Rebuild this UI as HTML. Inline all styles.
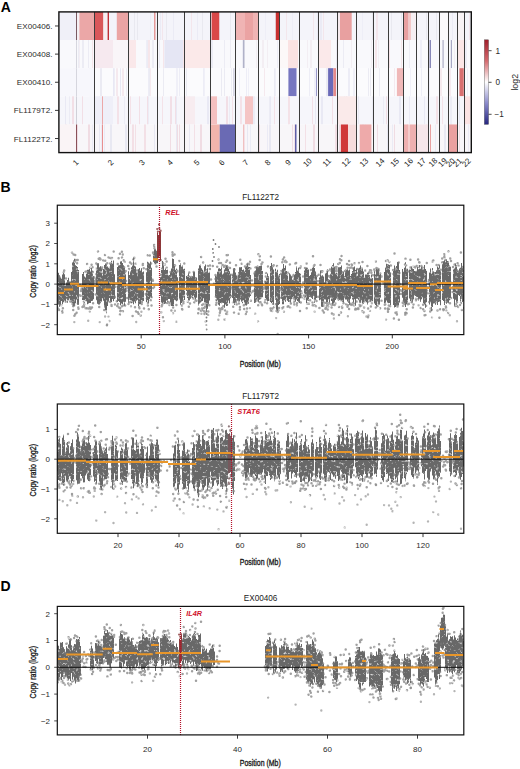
<!DOCTYPE html>
<html><head><meta charset="utf-8"><style>
html,body{margin:0;padding:0;background:#fff;}
svg{display:block;}
text{font-family:"Liberation Sans", sans-serif;}
</style></head><body>
<svg width="520" height="769" viewBox="0 0 520 769">
<rect width="520" height="769" fill="#fff"/>
<rect x="58.90" y="11.90" width="412.40" height="28.14" fill="#f4f4fa"/>
<rect x="81" y="11.90" width="1" height="28.14" fill="#ebebf5"/>
<rect x="88" y="11.90" width="1" height="28.14" fill="#ebebf5"/>
<rect x="90" y="11.90" width="1" height="28.14" fill="#f3e6ec"/>
<rect x="75" y="11.90" width="1" height="28.14" fill="#e9e9f0"/>
<rect x="78" y="11.90" width="1" height="28.14" fill="#ebebf5"/>
<rect x="119" y="11.90" width="2" height="28.14" fill="#f3e6ec"/>
<rect x="101" y="11.90" width="2" height="28.14" fill="#eeeef7"/>
<rect x="120" y="11.90" width="1" height="28.14" fill="#eeeef7"/>
<rect x="115" y="11.90" width="2" height="28.14" fill="#eeeef7"/>
<rect x="100" y="11.90" width="1" height="28.14" fill="#eeeef7"/>
<rect x="150" y="11.90" width="1" height="28.14" fill="#eeeef7"/>
<rect x="137" y="11.90" width="1" height="28.14" fill="#eeeef7"/>
<rect x="134" y="11.90" width="1" height="28.14" fill="#e9e9f0"/>
<rect x="137" y="11.90" width="1" height="28.14" fill="#e9e9f0"/>
<rect x="162" y="11.90" width="1" height="28.14" fill="#f3e6ec"/>
<rect x="160" y="11.90" width="1" height="28.14" fill="#ebebf5"/>
<rect x="173" y="11.90" width="1" height="28.14" fill="#ebebf5"/>
<rect x="166" y="11.90" width="1" height="28.14" fill="#e9e9f0"/>
<rect x="202" y="11.90" width="1" height="28.14" fill="#e9e9f0"/>
<rect x="197" y="11.90" width="1" height="28.14" fill="#ebebf5"/>
<rect x="191" y="11.90" width="1" height="28.14" fill="#f3e6ec"/>
<rect x="230" y="11.90" width="1" height="28.14" fill="#e9e9f0"/>
<rect x="219" y="11.90" width="1" height="28.14" fill="#e9e9f0"/>
<rect x="212" y="11.90" width="1" height="28.14" fill="#eeeef7"/>
<rect x="238" y="11.90" width="1" height="28.14" fill="#e9e9f0"/>
<rect x="243" y="11.90" width="1" height="28.14" fill="#f3e6ec"/>
<rect x="252" y="11.90" width="1" height="28.14" fill="#f3e6ec"/>
<rect x="275" y="11.90" width="1" height="28.14" fill="#e9e9f0"/>
<rect x="277" y="11.90" width="1" height="28.14" fill="#eeeef7"/>
<rect x="265" y="11.90" width="1" height="28.14" fill="#eeeef7"/>
<rect x="286" y="11.90" width="1" height="28.14" fill="#f3e6ec"/>
<rect x="292" y="11.90" width="1" height="28.14" fill="#eeeef7"/>
<rect x="313" y="11.90" width="1" height="28.14" fill="#f3e6ec"/>
<rect x="317" y="11.90" width="1" height="28.14" fill="#ebebf5"/>
<rect x="320" y="11.90" width="2" height="28.14" fill="#ebebf5"/>
<rect x="323" y="11.90" width="1" height="28.14" fill="#f3e6ec"/>
<rect x="346" y="11.90" width="2" height="28.14" fill="#eeeef7"/>
<rect x="339" y="11.90" width="1" height="28.14" fill="#e9e9f0"/>
<rect x="362" y="11.90" width="1" height="28.14" fill="#eeeef7"/>
<rect x="372" y="11.90" width="1" height="28.14" fill="#e9e9f0"/>
<rect x="376" y="11.90" width="2" height="28.14" fill="#f3e6ec"/>
<rect x="376" y="11.90" width="2" height="28.14" fill="#f3e6ec"/>
<rect x="391" y="11.90" width="1" height="28.14" fill="#e9e9f0"/>
<rect x="401" y="11.90" width="1" height="28.14" fill="#e9e9f0"/>
<rect x="407" y="11.90" width="2" height="28.14" fill="#e9e9f0"/>
<rect x="426" y="11.90" width="1" height="28.14" fill="#e9e9f0"/>
<rect x="436" y="11.90" width="1" height="28.14" fill="#e9e9f0"/>
<rect x="446" y="11.90" width="1" height="28.14" fill="#ebebf5"/>
<rect x="452" y="11.90" width="1" height="28.14" fill="#ebebf5"/>
<rect x="462" y="11.90" width="1" height="28.14" fill="#ebebf5"/>
<rect x="469" y="11.90" width="1" height="28.14" fill="#f3e6ec"/>
<rect x="59.00" y="11.90" width="17.00" height="28.14" fill="#f0f0f8"/>
<rect x="76.00" y="11.90" width="1.00" height="28.14" fill="#7a5a62"/>
<rect x="77.00" y="11.90" width="2.40" height="28.14" fill="#f4f0f4"/>
<rect x="79.40" y="11.90" width="15.50" height="28.14" fill="#eba7a7"/>
<rect x="94.90" y="11.90" width="8.50" height="28.14" fill="#d9575a"/>
<rect x="103.40" y="11.90" width="4.20" height="28.14" fill="#f7eef2"/>
<rect x="107.60" y="11.90" width="1.40" height="28.14" fill="#c03038"/>
<rect x="109.00" y="11.90" width="7.80" height="28.14" fill="#f3f3fa"/>
<rect x="116.80" y="11.90" width="12.00" height="28.14" fill="#eba4a4"/>
<rect x="154.00" y="11.90" width="1.50" height="28.14" fill="#e59a9a"/>
<rect x="211.60" y="11.90" width="7.60" height="28.14" fill="#d94848"/>
<rect x="235.20" y="11.90" width="9.80" height="28.14" fill="#f0b4b4"/>
<rect x="245.00" y="11.90" width="8.00" height="28.14" fill="#eba3a3"/>
<rect x="253.00" y="11.90" width="5.40" height="28.14" fill="#f0b4b4"/>
<rect x="275.80" y="11.90" width="3.20" height="28.14" fill="#c83030"/>
<rect x="337.90" y="11.90" width="2.10" height="28.14" fill="#f6eaee"/>
<rect x="340.00" y="11.90" width="11.70" height="28.14" fill="#e8a0a0"/>
<rect x="403.00" y="11.90" width="5.50" height="28.14" fill="#e8a0a0"/>
<rect x="408.50" y="11.90" width="2.50" height="28.14" fill="#f2c8c8"/>
<rect x="411.00" y="11.90" width="5.60" height="28.14" fill="#f5eef2"/>
<rect x="439.60" y="11.90" width="8.40" height="28.14" fill="#fbfafc"/>
<rect x="457.50" y="11.90" width="6.50" height="28.14" fill="#f8f3f5"/>
<rect x="58.90" y="40.04" width="412.40" height="28.14" fill="#f9f9fc"/>
<rect x="88" y="40.04" width="1" height="28.14" fill="#ececf4"/>
<rect x="92" y="40.04" width="1" height="28.14" fill="#f6e6ea"/>
<rect x="79" y="40.04" width="1" height="28.14" fill="#f3eef3"/>
<rect x="78" y="40.04" width="1" height="28.14" fill="#ececf4"/>
<rect x="82" y="40.04" width="2" height="28.14" fill="#ececf4"/>
<rect x="121" y="40.04" width="1" height="28.14" fill="#ececf4"/>
<rect x="104" y="40.04" width="1" height="28.14" fill="#f3eef3"/>
<rect x="107" y="40.04" width="1" height="28.14" fill="#f3eef3"/>
<rect x="127" y="40.04" width="1" height="28.14" fill="#f6e6ea"/>
<rect x="112" y="40.04" width="1" height="28.14" fill="#f6e6ea"/>
<rect x="152" y="40.04" width="2" height="28.14" fill="#ececf4"/>
<rect x="148" y="40.04" width="2" height="28.14" fill="#f6e6ea"/>
<rect x="146" y="40.04" width="2" height="28.14" fill="#ececf4"/>
<rect x="146" y="40.04" width="1" height="28.14" fill="#eeeef7"/>
<rect x="163" y="40.04" width="2" height="28.14" fill="#f6e6ea"/>
<rect x="164" y="40.04" width="1" height="28.14" fill="#eeeef7"/>
<rect x="183" y="40.04" width="1" height="28.14" fill="#f6e6ea"/>
<rect x="159" y="40.04" width="1" height="28.14" fill="#eeeef7"/>
<rect x="193" y="40.04" width="1" height="28.14" fill="#f3eef3"/>
<rect x="190" y="40.04" width="1" height="28.14" fill="#f3eef3"/>
<rect x="196" y="40.04" width="2" height="28.14" fill="#eeeef7"/>
<rect x="224" y="40.04" width="1" height="28.14" fill="#ececf4"/>
<rect x="211" y="40.04" width="2" height="28.14" fill="#ececf4"/>
<rect x="230" y="40.04" width="1" height="28.14" fill="#ececf4"/>
<rect x="256" y="40.04" width="1" height="28.14" fill="#eeeef7"/>
<rect x="242" y="40.04" width="1" height="28.14" fill="#ececf4"/>
<rect x="256" y="40.04" width="1" height="28.14" fill="#f3eef3"/>
<rect x="267" y="40.04" width="1" height="28.14" fill="#f3eef3"/>
<rect x="262" y="40.04" width="2" height="28.14" fill="#f3eef3"/>
<rect x="277" y="40.04" width="1" height="28.14" fill="#eeeef7"/>
<rect x="286" y="40.04" width="1" height="28.14" fill="#f3eef3"/>
<rect x="282" y="40.04" width="1" height="28.14" fill="#ececf4"/>
<rect x="310" y="40.04" width="2" height="28.14" fill="#f3eef3"/>
<rect x="307" y="40.04" width="1" height="28.14" fill="#f3eef3"/>
<rect x="324" y="40.04" width="2" height="28.14" fill="#f3eef3"/>
<rect x="336" y="40.04" width="1" height="28.14" fill="#ececf4"/>
<rect x="351" y="40.04" width="1" height="28.14" fill="#f3eef3"/>
<rect x="343" y="40.04" width="1" height="28.14" fill="#ececf4"/>
<rect x="371" y="40.04" width="1" height="28.14" fill="#f3eef3"/>
<rect x="371" y="40.04" width="1" height="28.14" fill="#f3eef3"/>
<rect x="375" y="40.04" width="2" height="28.14" fill="#f6e6ea"/>
<rect x="378" y="40.04" width="1" height="28.14" fill="#f3eef3"/>
<rect x="389" y="40.04" width="1" height="28.14" fill="#f6e6ea"/>
<rect x="401" y="40.04" width="1" height="28.14" fill="#f6e6ea"/>
<rect x="409" y="40.04" width="1" height="28.14" fill="#ececf4"/>
<rect x="420" y="40.04" width="2" height="28.14" fill="#eeeef7"/>
<rect x="429" y="40.04" width="1" height="28.14" fill="#ececf4"/>
<rect x="442" y="40.04" width="1" height="28.14" fill="#ececf4"/>
<rect x="454" y="40.04" width="1" height="28.14" fill="#f3eef3"/>
<rect x="460" y="40.04" width="1" height="28.14" fill="#eeeef7"/>
<rect x="465" y="40.04" width="2" height="28.14" fill="#eeeef7"/>
<rect x="76.00" y="40.04" width="1.00" height="28.14" fill="#d6d6de"/>
<rect x="94.90" y="40.04" width="18.10" height="28.14" fill="#f6e9ef"/>
<rect x="113.00" y="40.04" width="15.80" height="28.14" fill="#f9f5f8"/>
<rect x="128.80" y="40.04" width="7.20" height="28.14" fill="#fae8ea"/>
<rect x="165.00" y="40.04" width="18.00" height="28.14" fill="#e5e6f4"/>
<rect x="184.90" y="40.04" width="25.80" height="28.14" fill="#fbe9e9"/>
<rect x="243.00" y="40.04" width="1.50" height="28.14" fill="#b0b2c8"/>
<rect x="279.50" y="40.04" width="8.50" height="28.14" fill="#fcf8f8"/>
<rect x="288.00" y="40.04" width="10.00" height="28.14" fill="#fae2e2"/>
<rect x="318.10" y="40.04" width="12.90" height="28.14" fill="#fbe9ea"/>
<rect x="429.60" y="40.04" width="1.40" height="28.14" fill="#8888b8"/>
<rect x="442.50" y="40.04" width="1.30" height="28.14" fill="#b8b8cc"/>
<rect x="450.80" y="40.04" width="1.20" height="28.14" fill="#a8a8c4"/>
<rect x="457.50" y="40.04" width="6.50" height="28.14" fill="#fbe6e6"/>
<rect x="58.90" y="68.18" width="412.40" height="28.14" fill="#fbfbfd"/>
<rect x="90" y="68.18" width="1" height="28.14" fill="#ededf6"/>
<rect x="74" y="68.18" width="2" height="28.14" fill="#ebebf3"/>
<rect x="89" y="68.18" width="2" height="28.14" fill="#ebebf3"/>
<rect x="73" y="68.18" width="1" height="28.14" fill="#f5e9ee"/>
<rect x="75" y="68.18" width="1" height="28.14" fill="#f5e9ee"/>
<rect x="122" y="68.18" width="2" height="28.14" fill="#f5e9ee"/>
<rect x="116" y="68.18" width="2" height="28.14" fill="#f5e9ee"/>
<rect x="100" y="68.18" width="2" height="28.14" fill="#ebebf3"/>
<rect x="126" y="68.18" width="1" height="28.14" fill="#ebebf3"/>
<rect x="114" y="68.18" width="1" height="28.14" fill="#ededf6"/>
<rect x="149" y="68.18" width="1" height="28.14" fill="#ededf6"/>
<rect x="150" y="68.18" width="1" height="28.14" fill="#f5e9ee"/>
<rect x="149" y="68.18" width="1" height="28.14" fill="#ebebf3"/>
<rect x="148" y="68.18" width="1" height="28.14" fill="#ededf6"/>
<rect x="179" y="68.18" width="1" height="28.14" fill="#ededf6"/>
<rect x="176" y="68.18" width="1" height="28.14" fill="#f5e9ee"/>
<rect x="176" y="68.18" width="2" height="28.14" fill="#f0f0f8"/>
<rect x="163" y="68.18" width="1" height="28.14" fill="#ebebf3"/>
<rect x="204" y="68.18" width="1" height="28.14" fill="#f0f0f8"/>
<rect x="186" y="68.18" width="1" height="28.14" fill="#ebebf3"/>
<rect x="203" y="68.18" width="1" height="28.14" fill="#ededf6"/>
<rect x="224" y="68.18" width="1" height="28.14" fill="#ebebf3"/>
<rect x="231" y="68.18" width="1" height="28.14" fill="#ededf6"/>
<rect x="221" y="68.18" width="1" height="28.14" fill="#ebebf3"/>
<rect x="246" y="68.18" width="1" height="28.14" fill="#ededf6"/>
<rect x="239" y="68.18" width="1" height="28.14" fill="#f0f0f8"/>
<rect x="248" y="68.18" width="1" height="28.14" fill="#f0f0f8"/>
<rect x="264" y="68.18" width="1" height="28.14" fill="#f5e9ee"/>
<rect x="275" y="68.18" width="1" height="28.14" fill="#f0f0f8"/>
<rect x="274" y="68.18" width="1" height="28.14" fill="#ebebf3"/>
<rect x="293" y="68.18" width="1" height="28.14" fill="#f0f0f8"/>
<rect x="293" y="68.18" width="1" height="28.14" fill="#ededf6"/>
<rect x="309" y="68.18" width="1" height="28.14" fill="#ededf6"/>
<rect x="314" y="68.18" width="2" height="28.14" fill="#f0f0f8"/>
<rect x="326" y="68.18" width="2" height="28.14" fill="#ebebf3"/>
<rect x="336" y="68.18" width="1" height="28.14" fill="#ededf6"/>
<rect x="348" y="68.18" width="2" height="28.14" fill="#ededf6"/>
<rect x="353" y="68.18" width="2" height="28.14" fill="#f0f0f8"/>
<rect x="368" y="68.18" width="1" height="28.14" fill="#ebebf3"/>
<rect x="370" y="68.18" width="1" height="28.14" fill="#ebebf3"/>
<rect x="379" y="68.18" width="1" height="28.14" fill="#f5e9ee"/>
<rect x="379" y="68.18" width="1" height="28.14" fill="#ebebf3"/>
<rect x="394" y="68.18" width="1" height="28.14" fill="#f5e9ee"/>
<rect x="399" y="68.18" width="2" height="28.14" fill="#f5e9ee"/>
<rect x="410" y="68.18" width="1" height="28.14" fill="#f0f0f8"/>
<rect x="421" y="68.18" width="1" height="28.14" fill="#ededf6"/>
<rect x="429" y="68.18" width="1" height="28.14" fill="#f0f0f8"/>
<rect x="440" y="68.18" width="2" height="28.14" fill="#f5e9ee"/>
<rect x="449" y="68.18" width="2" height="28.14" fill="#f5e9ee"/>
<rect x="462" y="68.18" width="2" height="28.14" fill="#f5e9ee"/>
<rect x="467" y="68.18" width="1" height="28.14" fill="#f0f0f8"/>
<rect x="59.00" y="68.18" width="35.90" height="28.14" fill="#f7f7fc"/>
<rect x="76.00" y="68.18" width="1.00" height="28.14" fill="#d6d6de"/>
<rect x="113.00" y="68.18" width="1.00" height="28.14" fill="#e8e8f4"/>
<rect x="120.00" y="68.18" width="1.00" height="28.14" fill="#e8e8f4"/>
<rect x="233.30" y="68.18" width="1.20" height="28.14" fill="#c8c8dc"/>
<rect x="288.40" y="68.18" width="8.10" height="28.14" fill="#7676c0"/>
<rect x="316.00" y="68.18" width="1.00" height="28.14" fill="#9a9acb"/>
<rect x="328.10" y="68.18" width="5.30" height="28.14" fill="#6a6ab8"/>
<rect x="333.40" y="68.18" width="2.60" height="28.14" fill="#e58a8a"/>
<rect x="396.90" y="68.18" width="6.10" height="28.14" fill="#f0b8b8"/>
<rect x="459.40" y="68.18" width="4.30" height="28.14" fill="#d87070"/>
<rect x="58.90" y="96.32" width="412.40" height="28.14" fill="#f6f6fb"/>
<rect x="65" y="96.32" width="1" height="28.14" fill="#e9e9f4"/>
<rect x="72" y="96.32" width="2" height="28.14" fill="#f2dfe6"/>
<rect x="65" y="96.32" width="1" height="28.14" fill="#e9e9f4"/>
<rect x="69" y="96.32" width="1" height="28.14" fill="#ececf5"/>
<rect x="82" y="96.32" width="1" height="28.14" fill="#f2dfe6"/>
<rect x="124" y="96.32" width="1" height="28.14" fill="#ececf5"/>
<rect x="105" y="96.32" width="1" height="28.14" fill="#e9e9f4"/>
<rect x="117" y="96.32" width="2" height="28.14" fill="#f4e2e8"/>
<rect x="99" y="96.32" width="1" height="28.14" fill="#ececf5"/>
<rect x="110" y="96.32" width="1" height="28.14" fill="#f4e2e8"/>
<rect x="130" y="96.32" width="1" height="28.14" fill="#f4e2e8"/>
<rect x="147" y="96.32" width="2" height="28.14" fill="#ececf5"/>
<rect x="147" y="96.32" width="1" height="28.14" fill="#f2dfe6"/>
<rect x="139" y="96.32" width="1" height="28.14" fill="#f2dfe6"/>
<rect x="162" y="96.32" width="1" height="28.14" fill="#f4e2e8"/>
<rect x="175" y="96.32" width="1" height="28.14" fill="#f2dfe6"/>
<rect x="176" y="96.32" width="1" height="28.14" fill="#e9e9f4"/>
<rect x="170" y="96.32" width="2" height="28.14" fill="#f2dfe6"/>
<rect x="189" y="96.32" width="1" height="28.14" fill="#ececf5"/>
<rect x="208" y="96.32" width="1" height="28.14" fill="#f4e2e8"/>
<rect x="207" y="96.32" width="2" height="28.14" fill="#e9e9f4"/>
<rect x="232" y="96.32" width="1" height="28.14" fill="#f4e2e8"/>
<rect x="226" y="96.32" width="2" height="28.14" fill="#f2dfe6"/>
<rect x="229" y="96.32" width="1" height="28.14" fill="#ececf5"/>
<rect x="253" y="96.32" width="2" height="28.14" fill="#ececf5"/>
<rect x="249" y="96.32" width="1" height="28.14" fill="#f4e2e8"/>
<rect x="240" y="96.32" width="2" height="28.14" fill="#f4e2e8"/>
<rect x="269" y="96.32" width="1" height="28.14" fill="#ececf5"/>
<rect x="274" y="96.32" width="1" height="28.14" fill="#f4e2e8"/>
<rect x="270" y="96.32" width="1" height="28.14" fill="#e9e9f4"/>
<rect x="288" y="96.32" width="1" height="28.14" fill="#f2dfe6"/>
<rect x="288" y="96.32" width="2" height="28.14" fill="#f4e2e8"/>
<rect x="312" y="96.32" width="1" height="28.14" fill="#f2dfe6"/>
<rect x="315" y="96.32" width="1" height="28.14" fill="#e9e9f4"/>
<rect x="321" y="96.32" width="2" height="28.14" fill="#e9e9f4"/>
<rect x="332" y="96.32" width="1" height="28.14" fill="#f2dfe6"/>
<rect x="344" y="96.32" width="1" height="28.14" fill="#e9e9f4"/>
<rect x="346" y="96.32" width="1" height="28.14" fill="#f2dfe6"/>
<rect x="372" y="96.32" width="1" height="28.14" fill="#ececf5"/>
<rect x="358" y="96.32" width="1" height="28.14" fill="#e9e9f4"/>
<rect x="383" y="96.32" width="1" height="28.14" fill="#ececf5"/>
<rect x="386" y="96.32" width="1" height="28.14" fill="#f2dfe6"/>
<rect x="399" y="96.32" width="2" height="28.14" fill="#e9e9f4"/>
<rect x="400" y="96.32" width="1" height="28.14" fill="#e9e9f4"/>
<rect x="409" y="96.32" width="1" height="28.14" fill="#e9e9f4"/>
<rect x="424" y="96.32" width="1" height="28.14" fill="#e9e9f4"/>
<rect x="436" y="96.32" width="2" height="28.14" fill="#f4e2e8"/>
<rect x="442" y="96.32" width="1" height="28.14" fill="#f4e2e8"/>
<rect x="450" y="96.32" width="2" height="28.14" fill="#ececf5"/>
<rect x="459" y="96.32" width="1" height="28.14" fill="#e9e9f4"/>
<rect x="465" y="96.32" width="1" height="28.14" fill="#f4e2e8"/>
<rect x="76.00" y="96.32" width="1.00" height="28.14" fill="#d0d0d8"/>
<rect x="95.00" y="96.32" width="18.00" height="28.14" fill="#efeff8"/>
<rect x="102.00" y="96.32" width="1.00" height="28.14" fill="#eca8a8"/>
<rect x="185.00" y="96.32" width="10.00" height="28.14" fill="#f7ecf0"/>
<rect x="211.00" y="96.32" width="6.00" height="28.14" fill="#f4c0c0"/>
<rect x="245.00" y="96.32" width="8.00" height="28.14" fill="#f5c5c5"/>
<rect x="337.90" y="96.32" width="18.80" height="28.14" fill="#faeaea"/>
<rect x="464.00" y="96.32" width="6.50" height="28.14" fill="#fbe3e3"/>
<rect x="58.90" y="124.46" width="412.40" height="28.14" fill="#f8f6f9"/>
<rect x="88" y="124.46" width="2" height="28.14" fill="#f0dce3"/>
<rect x="92" y="124.46" width="1" height="28.14" fill="#ebebf5"/>
<rect x="77" y="124.46" width="1" height="28.14" fill="#f0dce3"/>
<rect x="66" y="124.46" width="1" height="28.14" fill="#f3e0e6"/>
<rect x="65" y="124.46" width="1" height="28.14" fill="#f3e0e6"/>
<rect x="104" y="124.46" width="1" height="28.14" fill="#ebebf5"/>
<rect x="110" y="124.46" width="2" height="28.14" fill="#e8e8f2"/>
<rect x="99" y="124.46" width="1" height="28.14" fill="#e8e8f2"/>
<rect x="125" y="124.46" width="2" height="28.14" fill="#e8e8f2"/>
<rect x="101" y="124.46" width="1" height="28.14" fill="#ebebf5"/>
<rect x="144" y="124.46" width="2" height="28.14" fill="#f3e0e6"/>
<rect x="132" y="124.46" width="2" height="28.14" fill="#f3e0e6"/>
<rect x="135" y="124.46" width="1" height="28.14" fill="#f3e0e6"/>
<rect x="154" y="124.46" width="1" height="28.14" fill="#e8e8f2"/>
<rect x="176" y="124.46" width="1" height="28.14" fill="#e8e8f2"/>
<rect x="170" y="124.46" width="1" height="28.14" fill="#f0dce3"/>
<rect x="179" y="124.46" width="1" height="28.14" fill="#f0dce3"/>
<rect x="177" y="124.46" width="1" height="28.14" fill="#f0dce3"/>
<rect x="194" y="124.46" width="1" height="28.14" fill="#f3e0e6"/>
<rect x="200" y="124.46" width="2" height="28.14" fill="#f0dce3"/>
<rect x="189" y="124.46" width="1" height="28.14" fill="#e8e8f2"/>
<rect x="220" y="124.46" width="1" height="28.14" fill="#ebebf5"/>
<rect x="220" y="124.46" width="1" height="28.14" fill="#ebebf5"/>
<rect x="229" y="124.46" width="1" height="28.14" fill="#e8e8f2"/>
<rect x="250" y="124.46" width="1" height="28.14" fill="#ebebf5"/>
<rect x="244" y="124.46" width="1" height="28.14" fill="#f3e0e6"/>
<rect x="247" y="124.46" width="1" height="28.14" fill="#e8e8f2"/>
<rect x="259" y="124.46" width="1" height="28.14" fill="#f0dce3"/>
<rect x="269" y="124.46" width="2" height="28.14" fill="#e8e8f2"/>
<rect x="267" y="124.46" width="1" height="28.14" fill="#ebebf5"/>
<rect x="294" y="124.46" width="1" height="28.14" fill="#f3e0e6"/>
<rect x="292" y="124.46" width="1" height="28.14" fill="#f0dce3"/>
<rect x="305" y="124.46" width="1" height="28.14" fill="#f3e0e6"/>
<rect x="313" y="124.46" width="2" height="28.14" fill="#f0dce3"/>
<rect x="336" y="124.46" width="1" height="28.14" fill="#f0dce3"/>
<rect x="335" y="124.46" width="1" height="28.14" fill="#f3e0e6"/>
<rect x="339" y="124.46" width="1" height="28.14" fill="#f0dce3"/>
<rect x="353" y="124.46" width="1" height="28.14" fill="#e8e8f2"/>
<rect x="365" y="124.46" width="1" height="28.14" fill="#ebebf5"/>
<rect x="362" y="124.46" width="2" height="28.14" fill="#e8e8f2"/>
<rect x="387" y="124.46" width="2" height="28.14" fill="#e8e8f2"/>
<rect x="377" y="124.46" width="1" height="28.14" fill="#f0dce3"/>
<rect x="394" y="124.46" width="1" height="28.14" fill="#f0dce3"/>
<rect x="392" y="124.46" width="1" height="28.14" fill="#ebebf5"/>
<rect x="407" y="124.46" width="1" height="28.14" fill="#f3e0e6"/>
<rect x="426" y="124.46" width="1" height="28.14" fill="#f3e0e6"/>
<rect x="435" y="124.46" width="1" height="28.14" fill="#ebebf5"/>
<rect x="444" y="124.46" width="2" height="28.14" fill="#e8e8f2"/>
<rect x="450" y="124.46" width="2" height="28.14" fill="#ebebf5"/>
<rect x="459" y="124.46" width="1" height="28.14" fill="#f3e0e6"/>
<rect x="468" y="124.46" width="1" height="28.14" fill="#ebebf5"/>
<rect x="59.00" y="124.46" width="17.00" height="28.14" fill="#faf4f6"/>
<rect x="76.00" y="124.46" width="1.00" height="28.14" fill="#8a5058"/>
<rect x="102.00" y="124.46" width="1.00" height="28.14" fill="#e89090"/>
<rect x="211.00" y="124.46" width="8.70" height="28.14" fill="#f2b4ac"/>
<rect x="219.70" y="124.46" width="15.50" height="28.14" fill="#6a6ab4"/>
<rect x="243.00" y="124.46" width="1.00" height="28.14" fill="#f0c0c0"/>
<rect x="295.00" y="124.46" width="1.50" height="28.14" fill="#5f5fa8"/>
<rect x="340.80" y="124.46" width="7.20" height="28.14" fill="#d03838"/>
<rect x="348.00" y="124.46" width="8.70" height="28.14" fill="#f6dcdc"/>
<rect x="359.70" y="124.46" width="11.70" height="28.14" fill="#eeaaaa"/>
<rect x="403.00" y="124.46" width="5.00" height="28.14" fill="#eeb0b0"/>
<rect x="408.00" y="124.46" width="2.00" height="28.14" fill="#f4cccc"/>
<rect x="410.00" y="124.46" width="6.60" height="28.14" fill="#eeb0b0"/>
<rect x="416.60" y="124.46" width="12.00" height="28.14" fill="#f6e6ea"/>
<rect x="430.00" y="124.46" width="1.00" height="28.14" fill="#e8a0a0"/>
<rect x="448.50" y="124.46" width="9.00" height="28.14" fill="#eaa0a0"/>
<line x1="94.50" y1="11.9" x2="94.50" y2="152.6" stroke="#3c3c3c" stroke-width="1"/>
<line x1="128.50" y1="11.9" x2="128.50" y2="152.6" stroke="#3c3c3c" stroke-width="1"/>
<line x1="157.50" y1="11.9" x2="157.50" y2="152.6" stroke="#3c3c3c" stroke-width="1"/>
<line x1="184.50" y1="11.9" x2="184.50" y2="152.6" stroke="#3c3c3c" stroke-width="1"/>
<line x1="210.50" y1="11.9" x2="210.50" y2="152.6" stroke="#3c3c3c" stroke-width="1"/>
<line x1="235.50" y1="11.9" x2="235.50" y2="152.6" stroke="#3c3c3c" stroke-width="1"/>
<line x1="258.50" y1="11.9" x2="258.50" y2="152.6" stroke="#3c3c3c" stroke-width="1"/>
<line x1="279.50" y1="11.9" x2="279.50" y2="152.6" stroke="#3c3c3c" stroke-width="1"/>
<line x1="299.50" y1="11.9" x2="299.50" y2="152.6" stroke="#3c3c3c" stroke-width="1"/>
<line x1="318.50" y1="11.9" x2="318.50" y2="152.6" stroke="#3c3c3c" stroke-width="1"/>
<line x1="337.50" y1="11.9" x2="337.50" y2="152.6" stroke="#3c3c3c" stroke-width="1"/>
<line x1="356.50" y1="11.9" x2="356.50" y2="152.6" stroke="#3c3c3c" stroke-width="1"/>
<line x1="373.50" y1="11.9" x2="373.50" y2="152.6" stroke="#3c3c3c" stroke-width="1"/>
<line x1="388.50" y1="11.9" x2="388.50" y2="152.6" stroke="#3c3c3c" stroke-width="1"/>
<line x1="403.50" y1="11.9" x2="403.50" y2="152.6" stroke="#3c3c3c" stroke-width="1"/>
<line x1="416.50" y1="11.9" x2="416.50" y2="152.6" stroke="#3c3c3c" stroke-width="1"/>
<line x1="428.50" y1="11.9" x2="428.50" y2="152.6" stroke="#3c3c3c" stroke-width="1"/>
<line x1="439.50" y1="11.9" x2="439.50" y2="152.6" stroke="#3c3c3c" stroke-width="1"/>
<line x1="448.50" y1="11.9" x2="448.50" y2="152.6" stroke="#3c3c3c" stroke-width="1"/>
<line x1="457.50" y1="11.9" x2="457.50" y2="152.6" stroke="#3c3c3c" stroke-width="1"/>
<line x1="464.50" y1="11.9" x2="464.50" y2="152.6" stroke="#3c3c3c" stroke-width="1"/>
<rect x="58.9" y="11.9" width="412.40" height="140.70" fill="none" stroke="#111" stroke-width="1.4"/>
<line x1="55" y1="25.97" x2="58.9" y2="25.97" stroke="#222" stroke-width="0.9"/>
<text x="52.4" y="28.97" text-anchor="end" font-size="8.1" fill="#2a2a2a">EX00406.</text>
<line x1="55" y1="54.11" x2="58.9" y2="54.11" stroke="#222" stroke-width="0.9"/>
<text x="52.4" y="57.11" text-anchor="end" font-size="8.1" fill="#2a2a2a">EX00408.</text>
<line x1="55" y1="82.25" x2="58.9" y2="82.25" stroke="#222" stroke-width="0.9"/>
<text x="52.4" y="85.25" text-anchor="end" font-size="8.1" fill="#2a2a2a">EX00410.</text>
<line x1="55" y1="110.39" x2="58.9" y2="110.39" stroke="#222" stroke-width="0.9"/>
<text x="52.4" y="113.39" text-anchor="end" font-size="8.1" fill="#2a2a2a">FL1179T2.</text>
<line x1="55" y1="138.53" x2="58.9" y2="138.53" stroke="#222" stroke-width="0.9"/>
<text x="52.4" y="141.53" text-anchor="end" font-size="8.1" fill="#2a2a2a">FL1122T2.</text>
<text x="75.60" y="165.20" text-anchor="middle" font-size="7.9" fill="#1a1a1a" transform="rotate(-45 75.60 162.40)">1</text>
<text x="110.55" y="165.20" text-anchor="middle" font-size="7.9" fill="#1a1a1a" transform="rotate(-45 110.55 162.40)">2</text>
<text x="141.85" y="165.20" text-anchor="middle" font-size="7.9" fill="#1a1a1a" transform="rotate(-45 141.85 162.40)">3</text>
<text x="169.90" y="165.20" text-anchor="middle" font-size="7.9" fill="#1a1a1a" transform="rotate(-45 169.90 162.40)">4</text>
<text x="196.50" y="165.20" text-anchor="middle" font-size="7.9" fill="#1a1a1a" transform="rotate(-45 196.50 162.40)">5</text>
<text x="221.65" y="165.20" text-anchor="middle" font-size="7.9" fill="#1a1a1a" transform="rotate(-45 221.65 162.40)">6</text>
<text x="245.50" y="165.20" text-anchor="middle" font-size="7.9" fill="#1a1a1a" transform="rotate(-45 245.50 162.40)">7</text>
<text x="267.65" y="165.20" text-anchor="middle" font-size="7.9" fill="#1a1a1a" transform="rotate(-45 267.65 162.40)">8</text>
<text x="288.10" y="165.20" text-anchor="middle" font-size="7.9" fill="#1a1a1a" transform="rotate(-45 288.10 162.40)">9</text>
<text x="307.40" y="165.20" text-anchor="middle" font-size="7.9" fill="#1a1a1a" transform="rotate(-45 307.40 162.40)">10</text>
<text x="326.70" y="165.20" text-anchor="middle" font-size="7.9" fill="#1a1a1a" transform="rotate(-45 326.70 162.40)">11</text>
<text x="346.00" y="165.20" text-anchor="middle" font-size="7.9" fill="#1a1a1a" transform="rotate(-45 346.00 162.40)">12</text>
<text x="363.90" y="165.20" text-anchor="middle" font-size="7.9" fill="#1a1a1a" transform="rotate(-45 363.90 162.40)">13</text>
<text x="379.95" y="165.20" text-anchor="middle" font-size="7.9" fill="#1a1a1a" transform="rotate(-45 379.95 162.40)">14</text>
<text x="394.60" y="165.20" text-anchor="middle" font-size="7.9" fill="#1a1a1a" transform="rotate(-45 394.60 162.40)">15</text>
<text x="408.50" y="165.20" text-anchor="middle" font-size="7.9" fill="#1a1a1a" transform="rotate(-45 408.50 162.40)">16</text>
<text x="421.30" y="165.20" text-anchor="middle" font-size="7.9" fill="#1a1a1a" transform="rotate(-45 421.30 162.40)">17</text>
<text x="432.80" y="165.20" text-anchor="middle" font-size="7.9" fill="#1a1a1a" transform="rotate(-45 432.80 162.40)">18</text>
<text x="442.50" y="165.20" text-anchor="middle" font-size="7.9" fill="#1a1a1a" transform="rotate(-45 442.50 162.40)">19</text>
<text x="450.45" y="165.20" text-anchor="middle" font-size="7.9" fill="#1a1a1a" transform="rotate(-45 450.45 162.40)">20</text>
<text x="457.45" y="165.20" text-anchor="middle" font-size="7.9" fill="#1a1a1a" transform="rotate(-45 457.45 162.40)">21</text>
<text x="466.35" y="165.20" text-anchor="middle" font-size="7.9" fill="#1a1a1a" transform="rotate(-45 466.35 162.40)">22</text>
<defs><filter id="soft" x="-2%" y="-2%" width="104%" height="104%"><feTurbulence type="fractalNoise" baseFrequency="0.38" numOctaves="2" seed="7" result="n"/><feColorMatrix in="n" type="matrix" values="0 0 0 0 1  0 0 0 0 1  0 0 0 0 1  -2.6 0 0 0 1.05" result="holes"/><feComposite in="holes" in2="SourceGraphic" operator="atop"/><feGaussianBlur stdDeviation="0.45"/></filter><linearGradient id="cb" x1="0" y1="0" x2="0" y2="1"><stop offset="0" stop-color="#a11e2b"/><stop offset="0.25" stop-color="#d46a6e"/><stop offset="0.5" stop-color="#ffffff"/><stop offset="0.75" stop-color="#8a8acb"/><stop offset="1" stop-color="#252580"/></linearGradient></defs>
<rect x="484.3" y="39.8" width="4.3" height="84.6" fill="url(#cb)" stroke="#555" stroke-width="0.4"/>
<line x1="488.6" y1="50.7" x2="491.6" y2="50.7" stroke="#222" stroke-width="0.8"/>
<line x1="488.6" y1="82.3" x2="491.6" y2="82.3" stroke="#222" stroke-width="0.8"/>
<line x1="488.6" y1="114.3" x2="491.6" y2="114.3" stroke="#222" stroke-width="0.8"/>
<text x="497.9" y="53.6" text-anchor="middle" font-size="8.2" fill="#2a2a2a">1</text>
<text x="497.9" y="85.2" text-anchor="middle" font-size="8.2" fill="#2a2a2a">0</text>
<text x="503.9" y="117.2" text-anchor="end" font-size="8.2" fill="#2a2a2a">−1</text>
<text x="0" y="0" text-anchor="middle" font-size="8.8" fill="#2a2a2a" transform="translate(517.6 82.3) rotate(-90)">log2</text>
<text x="0.8" y="12.0" font-size="14" font-weight="bold" fill="#000">A</text>
<text x="0.6" y="192.0" font-size="14" font-weight="bold" fill="#000">B</text>
<text x="0.6" y="392.3" font-size="14" font-weight="bold" fill="#000">C</text>
<text x="0.6" y="591.0" font-size="14" font-weight="bold" fill="#000">D</text>
<clipPath id="cB"><rect x="57.3" y="205.2" width="406.50" height="129.40"/></clipPath>
<g clip-path="url(#cB)">
<g filter="url(#soft)">
<path d="M57.5 274.7V301.3M58.5 272.4V304.4M59.5 275.2V306.7M60.5 278.1V304.5M61.5 278.7V301.0M62.5 274.5V304.2M63.5 272.8V302.2M64.5 274.2V300.8M65.5 284.8V301.2M66.5 282.6V298.8M67.5 280.0V302.7M68.5 277.8V300.2M69.5 281.6V298.5M70.5 281.6V300.0M71.5 272.1V301.6M72.5 262.5V302.9M73.5 260.4V306.3M74.5 258.8V305.8M75.5 265.3V303.2M76.5 266.1V299.6M77.5 267.0V304.8M78.5 270.1V304.8M82.5 274.0V300.0M83.5 272.1V300.0M84.5 276.6V303.5M85.5 277.4V300.1M86.5 273.8V301.3M87.5 269.8V304.2M88.5 269.8V303.5M89.5 269.0V303.0M90.5 271.5V302.9M91.5 267.9V301.0M92.5 270.7V300.8M93.5 276.0V299.3M96.5 270.6V300.2M97.5 263.6V303.8M98.5 263.3V304.6M99.5 267.2V304.5M100.5 266.1V302.7M101.5 268.4V302.1M102.5 275.4V298.3M103.5 269.1V300.7M104.5 265.0V307.4M105.5 263.5V311.7M106.5 263.4V313.2M107.5 266.3V306.0M108.5 267.2V301.1M109.5 268.8V297.9M110.5 263.9V301.6M111.5 260.8V302.1M112.5 263.4V298.9M113.5 260.5V301.2M114.5 274.3V298.9M117.5 266.9V301.9M118.5 265.5V301.0M119.5 265.3V302.0M120.5 261.4V305.2M121.5 261.3V303.6M122.5 263.0V303.9M123.5 265.3V301.7M124.5 267.1V305.7M125.5 274.2V301.7M128.5 271.2V302.8M129.5 275.1V298.1M130.5 271.5V300.3M131.5 267.2V303.3M132.5 265.5V302.5M133.5 257.7V304.3M134.5 265.8V301.5M135.5 266.6V303.2M136.5 272.6V301.1M137.5 272.6V299.8M138.5 269.0V305.9M139.5 268.1V304.2M140.5 270.5V303.9M141.5 268.2V300.3M142.5 271.9V300.8M143.5 271.4V301.0M146.5 272.3V302.1M147.5 261.7V300.2M148.5 262.4V303.3M149.5 263.6V299.0M150.5 261.4V296.7M151.5 267.7V297.4M153.5 254.3V262.1M154.5 249.3V263.3M155.5 249.2V264.0M156.5 251.0V263.2M157.5 253.5V263.3M160.5 277.3V296.1M161.5 267.8V302.6M162.5 261.0V303.4M163.5 264.8V303.9M164.5 270.0V303.9M165.5 268.4V303.6M166.5 270.1V300.6M167.5 269.6V301.8M168.5 275.5V299.1M169.5 275.1V299.1M170.5 272.4V302.0M171.5 268.5V305.9M172.5 258.1V306.0M173.5 259.1V305.9M174.5 264.1V299.8M175.5 269.9V300.6M176.5 268.5V301.3M177.5 277.3V300.6M179.5 265.1V299.5M180.5 263.3V304.8M181.5 266.4V303.0M182.5 265.2V301.3M183.5 269.3V297.6M184.5 268.7V299.9M186.5 275.9V291.0M187.5 275.6V298.1M188.5 273.3V301.1M189.5 275.8V300.4M190.5 276.8V298.8M191.5 277.7V295.0M192.5 276.3V298.0M193.5 272.1V295.6M194.5 272.1V297.4M195.5 277.1V299.2M196.5 277.4V297.8M198.5 268.6V305.8M199.5 265.3V303.5M200.5 264.3V302.5M201.5 268.3V301.4M202.5 269.7V300.9M203.5 273.3V298.3M204.5 266.3V302.5M205.5 264.6V304.4M206.5 270.5V310.7M207.5 268.3V308.7M208.5 272.7V304.0M209.5 271.8V300.5M215.5 275.8V296.4M216.5 275.0V301.0M217.5 271.7V300.1M218.5 268.4V304.7M219.5 268.2V305.7M220.5 268.9V302.9M221.5 265.6V303.9M222.5 274.5V302.7M223.5 273.4V303.1M224.5 269.5V307.8M225.5 267.4V304.4M226.5 265.1V305.9M227.5 265.0V305.8M228.5 268.9V300.5M229.5 271.2V303.6M230.5 273.7V298.2M232.5 274.8V298.0M233.5 267.9V303.1M234.5 268.1V304.9M235.5 272.5V301.9M236.5 275.5V298.1M237.5 281.6V297.1M237.5 279.3V300.5M238.5 272.3V301.5M239.5 266.9V301.4M240.5 266.9V299.4M241.5 267.1V302.1M242.5 270.1V303.2M243.5 269.6V300.3M244.5 271.4V302.6M245.5 267.3V304.9M246.5 266.3V305.4M247.5 263.6V304.3M248.5 266.7V303.8M249.5 267.1V297.4M250.5 275.1V296.0M254.5 272.8V303.1M255.5 270.4V302.6M256.5 266.8V299.6M257.5 266.7V297.9M258.5 266.2V302.0M259.5 266.1V299.8M260.5 265.8V299.2M261.5 265.4V298.4M262.5 270.9V297.2M265.5 281.0V298.0M266.5 277.6V299.4M267.5 273.5V301.4M268.5 276.3V301.0M270.5 266.1V301.9M271.5 263.0V303.1M272.5 266.7V302.1M273.5 269.4V304.6M275.5 268.8V299.7M276.5 271.8V309.8M277.5 269.7V311.0M278.5 276.5V305.0M279.5 274.0V304.0M281.5 273.7V298.7M282.5 268.8V304.2M283.5 264.0V304.3M284.5 268.1V300.3M285.5 265.6V301.8M286.5 270.9V297.6M287.5 275.6V298.8M287.5 283.0V300.7M288.5 280.7V301.9M289.5 273.3V299.3M290.5 274.4V302.6M291.5 276.2V299.2M292.5 279.1V297.1M293.5 278.5V296.6M294.5 274.9V298.2M295.5 272.0V301.6M296.5 266.2V299.6M297.5 270.4V301.0M298.5 267.4V301.7M299.5 272.9V303.1M300.5 273.7V298.5M304.5 270.4V293.5M305.5 268.4V298.3M306.5 267.5V303.0M307.5 267.8V300.6M308.5 269.2V300.8M309.5 275.9V296.9M310.5 275.0V296.7M311.5 272.2V297.7M312.5 267.7V298.9M313.5 266.3V295.8M314.5 268.0V302.7M315.5 271.4V299.6M316.5 276.7V298.0M319.5 277.6V300.3M320.5 270.6V299.5M321.5 275.7V306.8M322.5 275.3V307.1M323.5 276.5V302.5M324.5 282.2V299.5M325.5 273.6V299.5M326.5 271.1V302.2M327.5 269.0V302.4M328.5 279.2V299.2M329.5 279.8V302.5M330.5 273.8V298.0M331.5 266.2V301.0M332.5 264.9V305.1M333.5 263.3V303.6M334.5 266.7V302.9M335.5 273.4V300.0M336.5 272.8V298.6M337.5 276.2V297.3M338.5 267.2V298.7M339.5 267.3V300.2M340.5 267.1V301.5M341.5 265.5V301.2M342.5 273.4V301.7M343.5 271.8V302.5M344.5 276.2V297.1M345.5 271.6V299.6M346.5 269.8V299.5M347.5 269.3V301.4M348.5 270.6V302.7M349.5 269.4V304.8M350.5 275.9V298.8M351.5 274.0V296.0M352.5 271.1V299.5M353.5 267.6V302.5M354.5 266.4V299.3M355.5 270.1V305.7M356.5 269.0V298.7M357.5 275.7V298.8M358.5 268.6V300.4M359.5 267.8V301.7M360.5 265.6V302.5M361.5 267.5V299.9M362.5 267.7V304.3M363.5 271.6V304.1M364.5 277.8V299.2M365.5 274.6V301.0M366.5 274.4V302.2M367.5 272.7V304.4M368.5 272.7V299.7M369.5 275.1V301.2M370.5 278.4V301.5M371.5 274.6V300.4M372.5 278.0V301.3M374.5 271.3V303.4M375.5 274.4V305.1M376.5 268.8V305.9M377.5 269.6V301.6M378.5 269.0V304.6M379.5 274.7V304.4M380.5 274.0V297.7M384.5 272.0V303.3M385.5 267.8V303.1M386.5 263.7V300.6M387.5 264.3V302.7M388.5 264.4V303.2M389.5 265.0V302.9M390.5 272.8V305.0M393.5 271.0V304.9M394.5 265.4V307.6M395.5 267.6V307.1M396.5 266.1V305.4M397.5 262.1V305.5M398.5 262.2V305.4M399.5 270.0V302.6M402.5 268.9V297.7M403.5 271.7V301.5M404.5 267.8V302.9M405.5 262.3V307.0M406.5 270.3V304.2M407.5 268.7V302.4M409.5 269.6V298.6M410.5 269.7V301.0M411.5 266.6V298.8M412.5 268.6V301.8M413.5 269.1V299.3M414.5 271.1V295.1M415.5 271.3V296.0M416.5 270.8V296.7M417.5 267.0V297.0M418.5 269.2V300.5M419.5 264.9V298.8M420.5 268.8V301.8M421.5 266.8V299.3M422.5 268.2V297.4M423.5 269.3V303.3M424.5 265.0V304.4M425.5 268.9V307.8M426.5 270.7V302.2M429.5 272.6V304.6M430.5 268.5V301.7M431.5 273.8V311.0M432.5 268.1V307.0M433.5 271.1V303.4M434.5 272.3V303.2M435.5 272.0V304.7M436.5 270.4V301.2M437.5 266.5V304.9M438.5 267.8V301.9M439.5 265.2V301.5M440.5 271.2V305.2M442.5 264.3V300.0M443.5 261.2V301.0M444.5 260.2V304.9M445.5 262.2V298.5M446.5 259.5V303.8M447.5 261.1V302.4M448.5 261.4V303.3M449.5 265.4V300.3M450.5 266.6V299.4M453.5 269.5V298.8M454.5 268.6V305.7M455.5 263.4V299.7M456.5 265.2V301.7M457.5 270.7V301.1M458.5 271.4V295.1M459.5 268.5V296.0M460.5 267.8V301.5M461.5 263.0V298.8M462.5 268.0V302.1M463.5 275.9V301.0" stroke="#686868" stroke-width="1.05" fill="none"/>
<path d="M57.1 306.7h0M58.0 308.4h0M59.0 310.0h0M58.8 309.5h0M60.0 304.7h0M59.9 277.2h0M61.3 305.5h0M62.1 311.0h0M62.4 312.6h0M62.9 308.2h0M63.6 272.3h0M64.2 270.6h0M65.6 301.8h0M66.0 278.5h0M68.1 299.5h0M68.0 299.2h0M70.3 301.5h0M72.0 300.5h0M72.0 301.7h0M72.6 304.0h0M72.0 252.6h0M73.1 306.3h0M73.6 254.5h0M73.2 310.1h0M74.0 304.3h0M74.4 315.8h0M74.1 305.6h0M74.9 261.8h0M75.2 314.2h0M75.2 254.9h0M75.9 260.1h0M76.6 312.8h0M77.1 263.3h0M77.7 260.1h0M77.9 303.6h0M78.3 307.5h0M78.5 308.8h0M80.0 284.8h0M79.4 295.2h0M80.9 291.1h0M80.7 295.7h0M82.0 290.5h0M81.9 287.6h0M81.4 289.3h0M83.0 306.6h0M82.5 307.1h0M83.9 301.6h0M84.0 306.6h0M84.2 304.3h0M85.7 300.1h0M85.5 271.8h0M86.1 271.5h0M86.8 308.2h0M87.8 272.2h0M87.1 264.0h0M88.7 308.4h0M89.2 299.2h0M90.4 267.8h0M90.7 308.8h0M91.6 264.7h0M92.0 307.5h0M92.8 271.9h0M92.5 267.2h0M93.1 303.3h0M94.4 277.5h0M95.1 281.1h0M94.9 282.9h0M95.7 294.6h0M95.8 279.5h0M96.3 263.5h0M96.4 274.3h0M96.5 268.8h0M97.5 264.4h0M98.0 251.4h0M98.7 258.7h0M99.4 302.8h0M99.2 306.9h0M99.5 258.3h0M100.3 259.6h0M100.6 258.9h0M102.0 269.0h0M102.1 267.4h0M102.4 273.0h0M103.1 260.6h0M104.2 310.1h0M105.0 254.9h0M105.2 260.8h0M106.9 325.3h0M107.2 263.3h0M108.5 257.4h0M107.9 301.3h0M109.8 267.6h0M110.2 302.1h0M110.4 258.0h0M110.1 263.4h0M111.5 304.9h0M111.6 306.0h0M112.0 258.1h0M113.8 298.1h0M113.7 251.6h0M114.9 297.2h0M115.0 304.6h0M114.5 296.4h0M115.4 286.7h0M116.1 283.6h0M116.8 301.2h0M117.2 306.0h0M117.8 263.9h0M118.6 258.3h0M118.0 304.3h0M118.9 307.5h0M119.9 253.7h0M120.7 311.0h0M120.1 308.2h0M119.9 314.4h0M121.9 306.2h0M122.0 257.6h0M121.9 251.7h0M122.8 254.4h0M122.9 311.3h0M123.6 260.2h0M122.9 305.6h0M124.7 261.7h0M124.1 267.3h0M125.7 271.0h0M125.1 305.4h0M125.0 272.2h0M126.1 281.1h0M126.7 288.2h0M126.5 290.8h0M127.5 286.5h0M127.2 297.9h0M128.2 266.0h0M128.5 303.9h0M129.1 268.9h0M129.4 298.4h0M130.0 262.6h0M130.1 301.9h0M131.6 263.7h0M132.6 316.1h0M133.3 259.6h0M134.3 257.8h0M135.0 307.2h0M136.0 311.4h0M135.5 263.7h0M137.0 270.4h0M137.8 312.3h0M137.3 295.0h0M138.6 313.7h0M139.1 307.1h0M139.4 308.3h0M140.7 315.6h0M142.0 302.0h0M141.7 304.0h0M142.9 263.9h0M142.8 265.1h0M144.0 308.4h0M143.7 268.2h0M144.2 288.2h0M144.2 289.2h0M146.1 294.7h0M145.8 293.9h0M146.2 269.3h0M146.8 298.5h0M147.8 255.3h0M147.9 305.4h0M148.6 271.1h0M148.8 309.3h0M147.9 302.8h0M149.8 255.6h0M150.7 300.2h0M151.1 263.4h0M151.5 297.2h0M151.5 305.5h0M152.6 279.8h0M152.9 280.8h0M153.2 288.0h0M154.1 286.9h0M153.3 253.2h0M153.1 252.5h0M154.4 248.2h0M154.2 245.9h0M154.1 244.9h0M155.8 263.7h0M156.5 266.4h0M157.1 251.7h0M160.8 274.7h0M161.7 306.3h0M160.9 260.2h0M161.2 312.2h0M162.9 262.9h0M162.2 304.7h0M162.9 317.2h0M164.9 264.4h0M164.4 264.2h0M165.5 258.8h0M167.0 298.3h0M166.7 267.8h0M166.6 261.6h0M167.1 302.9h0M168.2 302.1h0M169.4 304.6h0M169.4 304.9h0M169.8 302.8h0M170.6 272.1h0M171.4 310.4h0M172.5 252.3h0M172.6 254.5h0M172.7 255.8h0M173.1 307.6h0M174.6 254.6h0M175.0 265.4h0M176.5 270.7h0M176.4 305.1h0M176.9 298.5h0M177.4 271.4h0M177.3 270.7h0M179.3 261.1h0M180.9 269.0h0M182.0 309.1h0M181.9 305.5h0M182.7 300.2h0M182.3 309.6h0M183.4 303.3h0M183.4 301.4h0M184.3 263.4h0M187.0 293.8h0M187.8 301.8h0M188.8 306.8h0M189.1 298.3h0M189.3 272.4h0M190.0 303.6h0M191.3 276.9h0M191.2 296.5h0M193.4 298.6h0M193.7 272.0h0M194.2 302.6h0M195.6 300.3h0M196.4 300.8h0M198.2 313.2h0M198.6 309.2h0M199.0 300.1h0M201.1 257.1h0M200.9 310.8h0M201.7 309.1h0M202.1 309.9h0M203.1 262.6h0M202.0 308.5h0M202.2 304.9h0M203.6 303.9h0M204.0 272.5h0M204.0 311.2h0M204.0 308.1h0M204.4 314.1h0M205.2 306.6h0M205.7 312.2h0M206.6 273.1h0M206.4 270.3h0M207.9 266.0h0M208.0 304.6h0M208.3 311.6h0M209.9 268.9h0M210.0 265.4h0M209.3 305.3h0M211.0 279.4h0M212.8 266.0h0M214.0 283.8h0M215.5 279.1h0M215.5 275.0h0M215.9 296.8h0M216.5 300.0h0M216.1 304.8h0M216.5 302.7h0M217.2 266.8h0M218.5 259.6h0M219.1 262.9h0M219.9 312.8h0M219.1 308.5h0M220.3 310.8h0M221.0 262.9h0M221.9 307.9h0M221.1 308.8h0M222.7 265.1h0M222.5 309.0h0M224.0 266.8h0M223.3 306.2h0M223.1 278.5h0M225.0 272.1h0M224.6 319.6h0M225.1 265.7h0M226.0 261.8h0M225.0 310.4h0M226.6 255.3h0M227.1 314.1h0M226.1 313.8h0M227.1 260.4h0M227.8 254.9h0M227.0 304.2h0M228.3 267.6h0M230.0 262.7h0M230.0 268.1h0M231.4 287.4h0M232.1 296.0h0M232.3 289.3h0M232.8 278.3h0M232.1 274.8h0M234.0 269.3h0M234.0 312.5h0M233.2 306.8h0M234.5 269.4h0M236.0 265.2h0M236.6 304.5h0M237.0 300.0h0M235.9 302.0h0M237.5 281.1h0M237.8 275.2h0M237.6 277.7h0M238.7 313.8h0M238.8 298.8h0M238.9 303.4h0M239.9 309.5h0M240.3 259.7h0M239.9 306.9h0M241.7 263.8h0M242.7 297.1h0M243.3 272.1h0M243.8 305.3h0M245.0 266.4h0M244.2 309.0h0M245.8 313.9h0M245.4 304.2h0M247.0 264.5h0M246.6 311.8h0M247.0 308.5h0M249.1 264.2h0M248.0 263.8h0M250.1 261.8h0M250.4 268.4h0M250.9 300.8h0M250.6 293.3h0M251.2 285.9h0M252.0 280.4h0M252.5 291.6h0M253.4 285.6h0M253.6 290.8h0M254.5 273.6h0M255.0 272.3h0M255.4 267.3h0M256.4 300.7h0M256.8 267.8h0M257.8 299.0h0M257.8 266.6h0M257.4 300.4h0M258.4 254.3h0M258.2 305.3h0M259.8 256.2h0M259.6 302.2h0M259.6 260.1h0M260.5 302.2h0M261.5 263.9h0M262.1 305.3h0M261.8 304.6h0M262.5 262.2h0M264.0 287.6h0M263.7 288.7h0M262.9 291.7h0M263.0 287.9h0M265.0 281.7h0M264.9 302.2h0M265.0 287.8h0M265.3 286.8h0M265.8 276.4h0M266.0 272.9h0M265.5 299.9h0M268.0 266.6h0M267.1 303.3h0M270.5 308.6h0M270.6 268.0h0M270.7 300.0h0M270.9 310.5h0M270.9 256.5h0M272.4 308.4h0M273.0 303.7h0M274.1 306.9h0M273.1 265.9h0M273.7 265.3h0M276.0 304.2h0M276.6 311.1h0M277.0 266.1h0M277.7 312.1h0M278.9 276.4h0M279.0 307.9h0M280.8 289.2h0M280.5 288.0h0M281.3 290.2h0M282.0 295.7h0M281.1 297.7h0M281.4 271.0h0M281.1 273.7h0M281.0 274.1h0M282.3 262.3h0M282.2 308.3h0M283.4 307.2h0M282.9 259.4h0M284.1 257.5h0M284.9 261.4h0M285.7 262.0h0M285.3 299.2h0M285.4 260.8h0M286.5 261.9h0M288.0 272.7h0M287.2 273.4h0M288.5 284.8h0M288.4 306.3h0M290.1 307.5h0M290.0 301.1h0M289.9 264.6h0M290.9 303.5h0M292.7 276.4h0M293.5 298.0h0M293.6 275.1h0M294.5 300.9h0M294.4 304.5h0M294.5 299.0h0M295.4 263.6h0M296.1 262.9h0M296.7 305.2h0M297.0 303.3h0M299.0 301.2h0M300.0 311.1h0M300.1 268.0h0M300.8 302.4h0M300.8 266.5h0M301.1 296.0h0M301.6 293.3h0M301.2 291.3h0M302.2 287.1h0M303.1 276.5h0M302.0 297.8h0M303.2 282.6h0M303.4 284.0h0M303.6 282.8h0M304.0 295.5h0M305.0 296.7h0M305.0 267.9h0M306.6 263.4h0M306.7 308.3h0M307.3 303.6h0M308.9 303.7h0M310.1 300.3h0M309.0 295.4h0M311.0 270.0h0M311.4 296.3h0M312.7 305.3h0M312.5 302.4h0M313.0 256.3h0M313.9 266.1h0M314.5 264.9h0M315.0 299.3h0M314.5 305.3h0M315.0 273.2h0M316.9 275.9h0M316.5 300.9h0M318.1 296.7h0M318.0 281.2h0M318.7 274.8h0M319.4 308.1h0M320.5 265.1h0M321.8 272.1h0M321.6 271.3h0M322.7 310.5h0M322.4 271.2h0M323.5 305.8h0M323.9 312.4h0M323.6 304.7h0M324.7 302.8h0M325.4 308.7h0M325.7 306.7h0M326.1 307.4h0M326.4 303.1h0M327.7 309.5h0M327.7 270.8h0M327.3 305.0h0M328.9 275.9h0M328.4 304.0h0M329.1 303.2h0M329.8 277.0h0M330.0 269.5h0M331.1 296.1h0M330.7 270.4h0M331.4 304.4h0M331.6 307.5h0M331.9 313.4h0M332.6 304.8h0M333.6 314.5h0M333.9 304.7h0M334.6 305.1h0M335.3 270.9h0M335.4 303.4h0M335.3 267.6h0M336.5 266.9h0M337.0 271.1h0M336.5 268.9h0M337.9 298.2h0M337.0 296.3h0M338.1 274.2h0M338.2 298.8h0M338.7 299.8h0M338.2 264.0h0M339.0 306.9h0M339.0 314.9h0M339.8 262.9h0M339.9 259.3h0M341.0 312.6h0M341.5 256.0h0M341.3 260.2h0M342.0 306.6h0M342.6 272.3h0M342.3 307.9h0M343.5 303.2h0M344.9 297.1h0M346.0 269.9h0M345.0 270.9h0M345.6 271.0h0M346.2 304.2h0M347.5 306.7h0M347.6 267.7h0M347.0 264.0h0M348.1 305.2h0M348.9 265.0h0M349.1 309.1h0M349.1 260.9h0M350.2 303.8h0M350.0 267.8h0M350.2 293.9h0M351.5 267.4h0M351.6 264.6h0M352.8 303.0h0M352.4 304.5h0M352.0 265.0h0M353.2 268.6h0M353.7 303.5h0M354.6 263.3h0M355.2 309.5h0M356.3 309.2h0M356.7 301.5h0M358.0 273.0h0M357.1 269.1h0M358.4 309.1h0M359.1 270.0h0M359.6 304.9h0M359.0 262.9h0M359.9 306.2h0M360.1 302.1h0M361.2 299.2h0M362.3 311.2h0M362.5 262.0h0M364.1 307.6h0M363.9 312.6h0M364.4 301.4h0M365.3 270.6h0M365.1 299.4h0M366.6 296.8h0M368.0 317.2h0M367.4 265.9h0M368.1 308.6h0M368.3 301.5h0M370.0 270.2h0M369.2 272.4h0M369.0 272.6h0M370.4 301.1h0M370.9 306.4h0M371.4 272.8h0M371.1 270.5h0M373.0 275.3h0M374.6 270.4h0M374.2 269.4h0M375.8 307.5h0M375.8 261.4h0M376.4 268.1h0M376.5 300.2h0M377.0 268.4h0M377.5 306.1h0M378.6 303.2h0M378.5 269.1h0M378.9 270.6h0M380.1 308.2h0M380.2 273.5h0M381.5 300.8h0M381.6 276.4h0M382.9 282.5h0M383.4 283.8h0M384.8 304.7h0M385.1 308.6h0M385.3 304.2h0M386.0 261.1h0M386.9 267.5h0M387.7 260.5h0M387.6 260.5h0M387.8 308.5h0M388.0 311.7h0M388.8 305.5h0M388.9 309.0h0M389.5 262.1h0M390.9 265.6h0M390.1 273.5h0M390.1 306.2h0M393.1 270.1h0M393.5 273.9h0M394.5 253.6h0M393.9 318.6h0M395.5 312.7h0M396.7 312.6h0M396.9 314.4h0M396.7 304.6h0M397.5 306.6h0M397.7 302.0h0M398.7 262.6h0M398.9 319.8h0M399.4 273.0h0M400.3 284.1h0M400.5 290.2h0M401.0 294.1h0M401.6 291.1h0M402.7 302.8h0M403.8 304.2h0M403.7 301.0h0M404.2 302.0h0M405.0 264.6h0M405.0 302.8h0M405.5 258.8h0M405.3 314.7h0M405.8 312.7h0M406.7 309.2h0M406.1 265.3h0M406.1 269.7h0M407.9 304.2h0M407.9 271.5h0M409.0 303.7h0M410.4 259.7h0M410.4 267.6h0M411.7 302.0h0M412.1 299.2h0M412.1 299.7h0M412.7 296.8h0M412.9 307.4h0M413.5 304.4h0M413.6 266.4h0M415.1 267.6h0M414.7 294.3h0M416.0 300.3h0M416.6 266.0h0M418.1 259.6h0M418.3 298.8h0M418.2 266.8h0M419.5 262.4h0M419.2 262.3h0M420.7 308.0h0M421.4 265.9h0M423.1 304.8h0M422.7 267.7h0M423.1 309.3h0M424.6 315.3h0M424.4 311.1h0M425.5 315.0h0M426.8 262.9h0M426.1 305.7h0M427.0 290.5h0M427.8 293.3h0M427.9 287.3h0M429.0 280.1h0M428.6 281.8h0M428.5 284.1h0M429.3 302.0h0M430.2 311.5h0M431.8 310.0h0M432.5 261.6h0M433.3 260.6h0M434.2 300.9h0M435.1 300.9h0M435.5 302.3h0M436.6 265.0h0M437.6 300.1h0M437.6 271.0h0M437.5 310.4h0M439.0 265.0h0M438.9 273.8h0M439.4 317.8h0M440.8 269.8h0M440.0 309.3h0M440.3 273.7h0M442.2 258.6h0M442.1 262.2h0M443.3 309.3h0M443.9 309.5h0M444.3 256.3h0M444.4 257.4h0M444.2 254.3h0M445.5 260.1h0M446.1 307.8h0M445.9 306.5h0M446.3 300.3h0M446.5 301.9h0M447.9 268.8h0M448.1 313.1h0M448.4 251.2h0M450.0 303.2h0M451.0 297.9h0M450.2 258.4h0M451.0 261.1h0M451.3 282.7h0M452.6 291.9h0M453.1 286.9h0M452.3 288.7h0M453.1 266.9h0M454.6 264.5h0M456.0 304.6h0M455.2 306.1h0M456.9 270.3h0M457.1 306.1h0M457.0 302.2h0M457.6 263.2h0M458.5 265.7h0M458.7 271.6h0M460.0 305.1h0M461.0 303.1h0M460.9 252.5h0M461.9 309.9h0M462.8 266.9h0M464.1 308.0h0M462.9 270.9h0" stroke="#767676" stroke-width="2.5" stroke-linecap="round" fill="none" opacity="0.7"/>
<path d="M74.3 322.1h0M85.5 308.3h0M88.2 320.8h0M89.8 311.6h0M90.0 307.1h0M99.7 322.1h0M105.1 316.5h0M106.9 340.5h0M107.1 324.5h0M108.5 316.6h0M109.4 321.0h0M120.2 311.1h0M131.0 306.3h0M136.2 322.0h0M141.4 311.8h0M163.8 321.1h0M173.1 313.3h0M174.9 310.8h0M176.4 321.8h0M198.9 308.4h0M201.4 313.8h0M205.6 321.6h0M208.2 314.9h0M218.3 319.8h0M219.3 315.5h0M227.2 311.8h0M233.0 302.4h0M249.9 308.1h0M255.2 313.8h0M258.1 321.5h0M272.2 311.0h0M276.1 318.1h0M277.7 334.0h0M278.7 310.3h0M284.0 311.7h0M287.5 306.8h0M294.0 302.4h0M304.5 298.8h0M314.6 311.8h0M316.0 306.2h0M328.3 306.5h0M333.9 318.5h0M347.9 316.2h0M351.1 305.1h0M353.9 305.9h0M355.6 308.4h0M358.0 308.0h0M361.3 305.6h0M366.4 316.5h0M368.5 315.5h0M370.0 310.9h0M371.9 303.2h0M386.1 319.6h0M387.9 309.7h0M403.0 305.9h0M405.1 313.0h0M406.8 313.3h0M411.9 302.9h0M415.9 298.8h0M418.6 305.2h0M430.5 308.5h0M432.0 317.2h0M443.3 310.3h0M446.4 310.4h0M449.8 315.3h0M457.0 321.3h0M458.1 307.1h0" stroke="#8c8c8c" stroke-width="2.4" stroke-linecap="round" fill="none" opacity="0.65"/>
<path d="M206.5 308.0h0M206.4 311.0h0M206.8 314.0h0M206.5 317.5h0M206.6 321.0h0M206.4 325.0h0M206.6 329.5h0M213.5 240.0h0M212.8 249.0h0M213.2 253.0h0M214.0 257.0h0M212.5 261.0h0M215.5 244.0h0M219.0 247.0h0" stroke="#7a7a7a" stroke-width="1.8" stroke-linecap="round" fill="none"/>
</g>
<path d="M157.5 232.3V260.7M158.5 235.1V257.9M159.5 231.3V256.4M160.5 232.1V261.1" stroke="#8a3a3a" stroke-width="1.05" fill="none"/>
<path d="M157.9 231.5h0M157.2 229.0h0M159.0 259.8h0M159.0 224.5h0M159.3 228.3h0M160.4 231.3h0M160.6 230.5h0" stroke="#8a3a3a" stroke-width="2.2" stroke-linecap="round" fill="none" opacity="0.8"/>
<line x1="57.3" y1="284.1" x2="463.8" y2="284.1" stroke="#111" stroke-width="1"/>
<path d="M57.3 293.1H64.0M64.0 289.5H73.0M70.0 283.7H79.0M77.0 285.9H98.5M97.6 282.5H108.0M103.5 289.5H111.0M109.5 283.3H122.0M118.8 277.9H124.7M122.0 285.0H159.0M137.5 289.3H147.7M153.0 259.3H158.0M159.5 282.5H176.5M174.8 288.7H200.0M176.0 282.0H208.0M208.0 285.0H357.0M357.0 285.9H373.0M374.0 281.5H391.0M387.6 286.5H408.0M408.0 283.0H426.5M403.0 288.5H413.0M416.0 288.1H430.0M430.0 284.2H437.0M435.0 290.1H443.5M437.0 282.9H463.8M449.0 287.8H463.8" stroke="#e8962a" stroke-width="2.0" fill="none"/>
<line x1="159.5" y1="205" x2="159.5" y2="335" stroke="#b3122a" stroke-width="1.2" stroke-dasharray="1 1"/>
</g>
<rect x="57.3" y="205.2" width="406.50" height="129.40" fill="none" stroke="#111" stroke-width="1.2"/>
<text x="165.30" y="214.70" font-size="7.8" font-weight="bold" font-style="italic" fill="#cf1029" textLength="14.8" lengthAdjust="spacingAndGlyphs">REL</text>
<text x="260.6" y="200.00" text-anchor="middle" font-size="8.2" fill="#222">FL1122T2</text>
<line x1="54.2" y1="223.20" x2="57.3" y2="223.20" stroke="#222" stroke-width="0.8"/>
<text x="50.0" y="226.00" text-anchor="end" font-size="8" fill="#2a2a2a">3</text>
<line x1="54.2" y1="243.50" x2="57.3" y2="243.50" stroke="#222" stroke-width="0.8"/>
<text x="50.0" y="246.30" text-anchor="end" font-size="8" fill="#2a2a2a">2</text>
<line x1="54.2" y1="263.80" x2="57.3" y2="263.80" stroke="#222" stroke-width="0.8"/>
<text x="50.0" y="266.60" text-anchor="end" font-size="8" fill="#2a2a2a">1</text>
<line x1="54.2" y1="284.10" x2="57.3" y2="284.10" stroke="#222" stroke-width="0.8"/>
<text x="50.0" y="286.90" text-anchor="end" font-size="8" fill="#2a2a2a">0</text>
<line x1="54.2" y1="304.40" x2="57.3" y2="304.40" stroke="#222" stroke-width="0.8"/>
<text x="50.0" y="307.20" text-anchor="end" font-size="8" fill="#2a2a2a">−1</text>
<line x1="54.2" y1="324.70" x2="57.3" y2="324.70" stroke="#222" stroke-width="0.8"/>
<text x="50.0" y="327.50" text-anchor="end" font-size="8" fill="#2a2a2a">−2</text>
<line x1="141.20" y1="334.6" x2="141.20" y2="338.40" stroke="#222" stroke-width="0.9"/>
<text x="141.20" y="348.90" text-anchor="middle" font-size="8" fill="#2a2a2a">50</text>
<line x1="224.90" y1="334.6" x2="224.90" y2="338.40" stroke="#222" stroke-width="0.9"/>
<text x="224.90" y="348.90" text-anchor="middle" font-size="8" fill="#2a2a2a">100</text>
<line x1="308.60" y1="334.6" x2="308.60" y2="338.40" stroke="#222" stroke-width="0.9"/>
<text x="308.60" y="348.90" text-anchor="middle" font-size="8" fill="#2a2a2a">150</text>
<line x1="392.30" y1="334.6" x2="392.30" y2="338.40" stroke="#222" stroke-width="0.9"/>
<text x="392.30" y="348.90" text-anchor="middle" font-size="8" fill="#2a2a2a">200</text>
<text x="260.3" y="366.80" text-anchor="middle" font-size="9.6" fill="#1a1a1a" stroke="#1a1a1a" stroke-width="0.35" textLength="41" lengthAdjust="spacingAndGlyphs">Position (Mb)</text>
<text x="0" y="0" text-anchor="middle" font-size="9.6" fill="#1a1a1a" stroke="#1a1a1a" stroke-width="0.35" textLength="52.6" lengthAdjust="spacingAndGlyphs" transform="translate(35.8 271.40) rotate(-90)">Copy ratio (log2)</text>
<clipPath id="cC"><rect x="57.3" y="404.0" width="406.50" height="129.30"/></clipPath>
<g clip-path="url(#cC)">
<g filter="url(#soft)">
<path d="M57.5 451.4V471.3M58.5 439.5V479.9M59.5 437.5V480.5M60.5 443.7V480.7M61.5 454.9V473.3M62.5 437.8V482.8M63.5 434.7V485.6M64.5 440.2V482.4M65.5 453.8V475.7M66.5 447.5V481.7M67.5 442.1V481.8M68.5 445.2V479.6M69.5 453.2V476.6M70.5 446.3V478.4M71.5 442.9V483.6M72.5 439.1V481.1M73.5 448.9V479.2M76.5 439.4V480.2M77.5 432.5V484.4M78.5 436.6V483.8M79.5 441.4V483.5M80.5 451.3V474.0M81.5 446.3V475.9M82.5 442.6V478.2M83.5 439.7V483.1M84.5 440.0V482.4M85.5 445.6V475.6M86.5 442.6V473.4M87.5 443.2V479.4M88.5 435.7V481.0M89.5 442.7V481.2M90.5 444.9V475.8M93.5 452.1V476.5M94.5 445.5V481.7M95.5 441.4V480.8M96.5 441.3V483.6M97.5 454.4V470.3M98.5 462.4V473.1M99.5 444.3V481.5M100.5 441.9V487.7M101.5 446.4V490.1M102.5 451.6V486.3M103.5 453.2V476.4M104.5 450.2V479.3M105.5 448.5V479.6M106.5 446.8V479.6M107.5 454.0V476.3M111.5 446.6V482.0M112.5 435.7V489.1M113.5 441.5V481.6M114.5 459.8V473.3M115.5 444.7V480.7M116.5 445.7V480.5M117.5 451.1V481.0M120.5 450.7V479.2M121.5 447.5V483.8M122.5 448.7V484.7M123.5 458.4V479.8M124.5 450.4V480.4M125.5 443.1V481.6M126.5 440.9V480.4M127.5 449.6V473.8M131.5 445.4V478.9M132.5 438.0V483.4M133.5 437.8V488.3M134.5 450.0V482.8M135.5 450.7V476.3M136.5 439.8V483.9M137.5 445.6V486.7M138.5 445.5V485.5M139.5 453.7V473.6M140.5 448.9V478.2M141.5 443.3V484.2M142.5 444.0V483.0M143.5 448.9V478.3M144.5 461.7V472.8M146.5 452.6V484.1M147.5 446.5V486.0M148.5 459.9V472.8M149.5 455.8V472.1M150.5 445.3V479.8M151.5 442.2V482.7M152.5 443.2V481.8M153.5 446.2V479.5M154.5 458.2V471.6M155.5 444.7V481.3M156.5 439.4V480.0M157.5 439.5V483.3M158.5 444.7V485.9M159.5 459.4V472.5M173.5 453.6V487.3M174.5 445.5V487.8M175.5 444.8V483.2M176.5 464.3V476.3M177.5 443.8V489.4M178.5 439.8V492.6M179.5 450.1V484.5M182.5 450.4V483.7M183.5 442.4V489.0M184.5 442.6V488.9M185.5 454.0V487.9M186.5 456.2V481.0M187.5 449.6V486.0M188.5 453.6V489.7M189.5 460.9V483.5M192.5 448.1V484.3M193.5 442.2V488.8M194.5 444.2V489.0M195.5 457.9V481.8M196.5 443.9V480.8M197.5 441.2V493.2M198.5 433.8V497.2M199.5 434.7V486.8M200.5 444.0V480.6M201.5 446.0V480.7M202.5 435.2V487.8M203.5 435.3V489.7M204.5 439.9V487.2M205.5 449.2V485.7M206.5 441.3V478.6M207.5 440.8V489.9M208.5 440.2V485.4M209.5 445.2V482.7M210.5 457.7V472.1M211.5 430.0V480.1M212.5 429.9V487.1M213.5 427.9V485.8M214.5 441.2V480.4M215.5 447.7V479.7M216.5 437.8V483.3M217.5 431.2V485.7M218.5 435.7V484.3M219.5 456.3V473.1M220.5 437.7V486.7M221.5 437.0V486.6M222.5 437.3V488.9M223.5 440.4V482.3M224.5 439.6V483.8M225.5 430.3V486.5M226.5 429.8V491.4M227.5 433.3V478.9M228.5 454.9V469.1M231.5 458.1V477.2M232.5 438.0V488.2M233.5 435.2V494.5M234.5 441.7V481.1M244.5 449.2V473.2M245.5 439.5V478.2M246.5 439.0V477.7M247.5 440.7V476.7M248.5 448.6V473.3M249.5 450.8V468.1M250.5 437.0V475.4M251.5 438.5V477.1M252.5 438.6V475.4M253.5 447.7V473.8M254.5 444.7V474.4M255.5 435.4V476.0M256.5 437.8V479.1M257.5 438.3V478.6M258.5 449.9V474.3M259.5 452.8V474.0M260.5 443.7V473.1M261.5 439.7V474.4M262.5 436.6V472.6M263.5 448.0V469.2M264.5 445.6V478.2M265.5 431.1V484.0M266.5 434.1V475.9M267.5 442.1V476.0M268.5 441.8V471.6M269.5 439.9V475.2M270.5 435.9V480.1M271.5 440.6V478.8M272.5 448.4V475.1M273.5 439.2V475.6M274.5 430.9V481.3M275.5 437.7V476.4M276.5 454.8V468.7M277.5 443.6V475.3M278.5 442.1V477.0M279.5 441.6V479.6M280.5 451.1V474.2M286.5 440.8V474.7M287.5 434.5V480.1M288.5 435.6V479.2M289.5 447.0V472.0M290.5 446.2V471.6M291.5 442.2V478.6M292.5 438.6V473.5M293.5 446.2V472.1M294.5 439.2V472.9M295.5 441.3V475.0M296.5 432.6V477.7M297.5 443.2V471.9M299.5 445.7V477.4M300.5 441.2V482.0M301.5 439.0V482.3M302.5 450.3V476.3M303.5 445.0V480.7M304.5 441.8V481.9M305.5 435.2V479.1M306.5 447.2V478.8M307.5 451.4V477.3M308.5 445.0V482.3M309.5 449.4V481.3M310.5 458.4V473.4M311.5 442.2V481.1M312.5 439.3V476.7M313.5 443.6V470.8M315.5 449.2V477.1M316.5 442.1V475.9M317.5 447.1V477.0M318.5 451.0V468.6M319.5 438.0V478.4M320.5 440.2V480.1M321.5 447.1V474.3M323.5 444.2V473.8M324.5 435.2V480.5M325.5 438.5V481.7M326.5 440.4V477.4M327.5 451.2V468.8M327.5 452.1V471.2M328.5 442.2V472.1M329.5 438.0V473.3M330.5 442.9V480.0M331.5 448.5V473.2M332.5 451.3V474.6M333.5 445.4V476.8M334.5 443.6V475.7M335.5 446.4V478.8M336.5 453.3V471.8M337.5 442.0V476.0M338.5 435.2V480.9M339.5 435.6V479.4M340.5 444.3V470.3M341.5 441.6V471.8M342.5 428.4V477.9M343.5 430.4V478.1M344.5 443.7V480.2M345.5 444.6V474.3M346.5 436.9V483.4M347.5 427.8V483.2M348.5 438.1V474.9M349.5 446.8V467.9M350.5 439.0V478.4M351.5 433.5V478.2M352.5 436.9V473.7M353.5 449.2V466.2M355.5 438.6V467.3M356.5 433.0V473.5M357.5 430.7V476.1M358.5 432.2V479.1M359.5 438.5V476.5M360.5 444.8V474.9M361.5 436.3V475.9M362.5 430.5V481.7M363.5 437.6V474.4M364.5 449.5V469.5M365.5 433.0V474.0M366.5 436.4V477.5M367.5 434.5V477.2M368.5 446.2V473.3M369.5 444.5V473.5M370.5 437.2V477.6M371.5 441.1V476.8M372.5 446.3V475.8M373.5 457.0V463.9M374.5 438.1V474.3M375.5 428.1V473.6M376.5 430.2V476.7M377.5 440.9V469.5M381.5 443.2V477.9M382.5 436.1V480.2M383.5 433.4V481.8M384.5 435.3V476.9M385.5 450.8V464.7M386.5 439.7V473.9M387.5 434.8V473.5M388.5 438.2V481.0M389.5 448.2V475.8M390.5 441.3V478.4M391.5 434.6V482.1M392.5 431.5V481.7M393.5 439.8V480.1M394.5 450.4V467.8M395.5 441.7V479.3M396.5 436.4V478.0M397.5 435.5V482.5M398.5 438.9V473.7M399.5 439.8V472.2M400.5 429.7V484.2M401.5 430.1V483.7M402.5 440.5V478.4M403.5 456.6V465.9M404.5 435.6V478.0M405.5 434.7V481.2M406.5 430.7V474.3M407.5 439.3V472.1M410.5 455.8V467.8M411.5 435.8V475.2M412.5 432.7V477.1M413.5 436.1V478.6M414.5 448.5V467.4M415.5 442.8V473.1M416.5 436.6V472.0M417.5 437.8V470.5M418.5 440.4V471.7M421.5 454.6V466.3M422.5 436.6V473.1M423.5 433.4V473.7M424.5 429.4V479.4M425.5 438.2V470.9M426.5 449.9V468.9M427.5 435.5V477.8M428.5 432.5V480.5M429.5 431.2V479.7M430.5 435.1V471.4M431.5 445.3V468.8M432.5 434.7V475.5M433.5 432.5V479.8M434.5 435.1V477.8M435.5 436.4V471.4M436.5 444.3V475.2M437.5 431.3V484.8M438.5 428.6V478.3M439.5 425.5V476.8M440.5 441.0V473.0M449.5 437.9V471.6M450.5 433.2V476.3M451.5 441.6V473.8M453.5 442.0V472.4M454.5 435.0V471.9M455.5 434.1V476.9M456.5 435.1V475.3M457.5 442.8V470.3M458.5 450.2V467.2M459.5 437.0V476.5M460.5 432.7V479.8M461.5 427.8V477.0M462.5 430.9V473.9M463.5 443.6V466.4" stroke="#686868" stroke-width="1.05" fill="none"/>
<path d="M57.1 454.0h0M58.8 441.4h0M59.0 486.3h0M59.2 484.2h0M59.4 487.8h0M59.2 437.1h0M60.8 479.9h0M61.1 477.3h0M62.0 483.6h0M63.7 491.2h0M64.0 476.7h0M64.1 484.6h0M65.1 452.9h0M67.0 444.0h0M66.9 487.6h0M68.0 433.9h0M67.6 448.6h0M68.9 442.4h0M68.7 482.6h0M70.0 484.6h0M69.7 483.7h0M70.5 487.4h0M71.9 485.8h0M72.0 493.9h0M73.9 481.0h0M73.2 448.2h0M74.4 461.6h0M74.5 457.9h0M76.1 455.7h0M76.0 459.7h0M75.5 462.5h0M76.1 432.0h0M78.0 429.5h0M77.9 435.6h0M77.8 496.5h0M78.9 425.7h0M78.8 481.6h0M79.2 482.1h0M80.3 479.4h0M81.1 452.3h0M80.7 446.7h0M81.3 449.7h0M81.1 488.2h0M82.8 431.1h0M82.7 441.3h0M83.8 488.3h0M83.2 439.8h0M83.6 477.4h0M84.7 438.4h0M84.5 436.9h0M84.0 438.4h0M86.1 443.2h0M87.1 438.4h0M87.9 491.8h0M88.6 437.9h0M88.7 433.6h0M89.1 431.8h0M89.7 492.7h0M90.1 435.7h0M91.0 476.4h0M91.5 449.9h0M91.2 464.9h0M92.6 463.1h0M92.1 456.8h0M93.3 453.3h0M93.0 462.2h0M94.1 448.7h0M93.4 449.2h0M94.2 437.1h0M94.1 488.4h0M94.2 487.4h0M95.0 488.6h0M95.2 425.4h0M95.4 440.7h0M96.0 477.8h0M96.0 483.6h0M97.3 473.7h0M97.4 451.6h0M97.2 471.9h0M98.8 459.9h0M98.5 464.5h0M98.6 472.3h0M99.3 483.7h0M99.2 443.9h0M99.7 442.1h0M100.5 488.9h0M100.8 432.1h0M101.6 494.0h0M101.3 440.8h0M102.3 489.5h0M102.4 451.5h0M103.7 448.5h0M103.7 479.5h0M104.6 485.1h0M105.7 444.8h0M106.9 483.2h0M106.9 439.2h0M106.0 439.6h0M107.2 481.3h0M108.0 477.2h0M107.8 473.7h0M109.0 468.9h0M108.4 459.8h0M109.1 461.6h0M109.2 449.6h0M109.8 447.7h0M110.4 461.4h0M110.7 460.4h0M110.1 469.0h0M111.3 441.3h0M111.7 442.8h0M111.7 445.5h0M113.1 482.5h0M113.1 442.8h0M114.0 484.3h0M113.5 488.8h0M114.9 456.8h0M115.1 439.6h0M116.5 437.4h0M116.8 443.8h0M116.3 442.6h0M117.9 451.5h0M117.9 465.8h0M119.7 458.9h0M119.5 459.4h0M120.5 445.5h0M120.7 483.5h0M121.1 440.3h0M121.1 488.4h0M123.1 445.5h0M122.9 442.5h0M124.0 480.7h0M123.4 452.8h0M124.8 450.2h0M126.0 493.1h0M125.9 440.4h0M126.0 487.1h0M126.7 481.2h0M126.9 481.4h0M127.3 475.6h0M127.6 441.6h0M128.1 457.1h0M128.0 448.2h0M129.1 461.3h0M129.2 473.7h0M130.0 463.7h0M130.0 459.0h0M131.3 487.5h0M132.0 438.2h0M133.5 494.2h0M133.3 430.8h0M134.4 485.0h0M134.3 484.7h0M136.0 482.9h0M135.5 443.7h0M135.9 435.4h0M137.7 486.1h0M137.7 443.7h0M138.7 485.1h0M138.4 481.1h0M139.8 456.5h0M140.2 487.6h0M140.7 442.4h0M141.4 440.3h0M141.6 489.8h0M142.5 492.1h0M142.0 437.5h0M142.7 486.2h0M142.9 440.9h0M145.1 459.7h0M144.3 447.3h0M145.3 448.1h0M146.0 463.0h0M146.1 468.8h0M146.1 454.9h0M146.3 484.6h0M148.0 439.2h0M147.0 487.1h0M148.6 474.7h0M149.4 475.7h0M149.4 473.2h0M150.8 435.8h0M150.2 444.8h0M150.5 440.3h0M151.8 440.7h0M152.0 477.8h0M153.0 482.2h0M152.8 488.3h0M153.9 445.2h0M154.3 474.8h0M155.8 480.6h0M156.6 491.4h0M156.4 485.6h0M157.4 427.8h0M158.5 487.6h0M158.9 482.2h0M158.5 492.5h0M159.6 453.9h0M158.9 471.4h0M159.1 450.7h0M159.2 464.8h0M160.7 470.6h0M160.2 460.7h0M161.1 466.0h0M161.0 461.2h0M161.9 462.6h0M163.8 460.9h0M167.0 461.7h0M167.1 470.4h0M169.6 466.6h0M171.1 459.9h0M172.9 446.4h0M173.2 494.1h0M174.7 498.5h0M174.9 435.5h0M176.0 442.5h0M175.2 488.5h0M175.8 489.4h0M176.1 477.5h0M176.1 461.1h0M176.4 460.9h0M177.9 438.8h0M177.5 431.6h0M177.1 505.6h0M178.4 493.7h0M179.6 499.3h0M179.4 445.1h0M180.4 478.8h0M179.9 475.9h0M181.2 457.5h0M181.3 468.0h0M181.5 457.6h0M182.3 441.4h0M182.9 444.8h0M183.0 488.6h0M183.9 502.1h0M185.5 493.3h0M186.5 452.9h0M186.6 456.6h0M187.9 490.9h0M186.9 493.3h0M188.2 494.5h0M188.7 451.1h0M189.3 458.8h0M188.9 457.6h0M190.7 469.7h0M190.4 455.9h0M191.1 481.6h0M190.0 455.4h0M191.0 453.9h0M191.9 474.0h0M191.8 463.5h0M191.5 473.6h0M191.5 443.3h0M192.7 436.0h0M193.6 499.4h0M194.8 489.9h0M194.5 431.1h0M194.9 445.4h0M196.0 480.5h0M195.7 482.6h0M196.7 485.5h0M196.6 441.3h0M196.5 486.0h0M197.9 506.7h0M197.1 434.6h0M197.7 500.1h0M198.6 494.3h0M199.8 491.0h0M200.2 441.0h0M201.9 482.7h0M201.3 447.1h0M201.2 481.8h0M202.6 489.2h0M202.6 496.9h0M202.6 495.4h0M203.2 432.8h0M203.0 430.9h0M203.9 498.1h0M204.9 434.3h0M205.1 497.6h0M206.1 442.6h0M205.6 443.6h0M205.4 492.0h0M206.4 490.4h0M207.3 495.4h0M207.8 430.9h0M207.5 489.9h0M208.5 430.0h0M208.9 486.8h0M209.2 437.3h0M210.0 490.6h0M211.0 476.4h0M211.5 488.1h0M211.1 482.8h0M212.0 430.7h0M212.8 493.2h0M213.2 495.7h0M213.8 492.7h0M214.4 434.3h0M214.1 441.7h0M215.6 440.6h0M215.4 475.9h0M216.3 430.4h0M216.0 493.4h0M216.6 437.9h0M217.8 489.8h0M218.4 430.0h0M219.0 475.8h0M219.5 475.6h0M219.0 474.1h0M220.6 434.2h0M220.1 495.9h0M220.9 501.8h0M221.9 425.8h0M221.6 424.8h0M223.0 431.4h0M222.3 484.2h0M222.1 429.9h0M223.4 435.8h0M223.7 485.4h0M224.2 444.6h0M225.9 493.5h0M226.5 507.6h0M226.4 491.1h0M226.2 497.0h0M228.0 437.6h0M227.0 484.5h0M227.2 476.9h0M228.9 454.4h0M231.6 455.3h0M231.6 482.8h0M232.5 491.3h0M233.0 487.4h0M234.3 436.2h0M235.9 465.4h0M236.1 464.4h0M235.2 464.9h0M236.2 470.7h0M236.2 465.1h0M237.2 469.4h0M238.0 469.0h0M237.9 446.3h0M239.1 462.4h0M238.4 463.2h0M239.3 469.5h0M239.3 450.4h0M240.8 454.4h0M240.4 456.6h0M241.8 453.6h0M241.9 464.4h0M242.7 451.4h0M242.1 472.8h0M243.1 475.4h0M242.7 471.6h0M243.4 466.1h0M244.0 483.7h0M244.1 466.2h0M244.5 470.3h0M244.1 444.9h0M243.9 473.6h0M245.3 488.9h0M246.3 479.0h0M245.9 479.7h0M246.6 484.2h0M247.5 437.4h0M248.9 473.7h0M248.2 478.2h0M249.7 446.4h0M249.5 447.2h0M249.9 450.1h0M251.0 475.6h0M251.5 484.5h0M252.2 430.0h0M252.6 432.7h0M253.6 443.2h0M253.0 476.7h0M254.0 479.0h0M254.3 443.3h0M255.1 478.7h0M254.8 480.6h0M255.5 428.2h0M255.4 434.1h0M255.8 479.7h0M256.5 425.9h0M256.9 489.4h0M257.1 427.9h0M257.4 433.0h0M257.3 433.6h0M258.3 446.0h0M259.1 441.0h0M258.9 478.9h0M259.5 446.8h0M260.2 473.7h0M261.8 437.3h0M261.2 432.9h0M261.6 476.8h0M262.3 476.2h0M262.2 479.1h0M262.0 477.1h0M263.9 447.4h0M264.3 441.5h0M264.7 443.7h0M265.0 488.1h0M265.5 488.7h0M266.4 423.7h0M267.0 435.9h0M267.6 437.0h0M268.8 439.9h0M268.1 440.4h0M269.2 433.4h0M269.3 435.2h0M270.5 429.2h0M272.0 432.7h0M272.0 446.0h0M273.1 444.0h0M272.1 477.2h0M274.0 436.7h0M273.6 474.3h0M274.9 478.6h0M275.4 476.0h0M277.0 453.6h0M277.8 477.1h0M277.4 476.9h0M277.8 433.6h0M278.0 441.2h0M279.6 483.7h0M279.5 481.1h0M280.5 449.6h0M282.1 463.1h0M281.7 455.6h0M281.7 449.0h0M283.0 468.7h0M282.9 482.7h0M282.8 457.8h0M283.9 471.3h0M283.7 460.4h0M284.4 459.9h0M285.0 455.0h0M284.6 468.8h0M285.0 465.1h0M286.0 450.5h0M286.0 455.3h0M285.8 467.3h0M286.8 484.7h0M286.4 480.1h0M286.1 475.8h0M287.8 423.0h0M286.9 423.6h0M287.2 484.7h0M289.0 480.9h0M288.1 434.1h0M289.5 443.4h0M290.6 442.6h0M291.3 435.8h0M292.7 483.5h0M292.3 481.6h0M293.5 447.4h0M294.5 445.4h0M294.4 432.9h0M294.9 483.1h0M295.0 475.8h0M296.2 481.2h0M296.1 437.6h0M298.0 474.6h0M299.7 436.7h0M300.8 421.3h0M300.8 488.7h0M300.2 490.8h0M301.8 435.1h0M301.5 484.6h0M302.2 479.7h0M303.5 485.7h0M303.6 485.6h0M303.2 488.4h0M304.8 476.0h0M303.9 489.0h0M305.9 489.0h0M305.5 483.1h0M305.1 489.7h0M306.1 447.0h0M306.4 440.3h0M307.4 483.0h0M307.6 448.2h0M308.0 485.3h0M310.0 495.2h0M310.9 478.5h0M311.9 436.1h0M311.5 483.2h0M312.8 485.8h0M312.2 428.5h0M312.4 431.7h0M313.6 480.5h0M313.7 474.2h0M315.4 479.9h0M316.2 477.6h0M317.5 481.2h0M317.9 481.2h0M318.4 448.3h0M318.8 471.6h0M320.1 437.8h0M319.5 484.2h0M320.9 489.1h0M320.1 482.2h0M321.2 443.9h0M321.9 477.5h0M323.3 478.7h0M324.0 439.9h0M324.0 431.1h0M325.0 484.9h0M326.0 425.0h0M325.1 480.6h0M325.8 433.6h0M326.2 480.5h0M326.0 478.5h0M327.3 448.9h0M326.9 471.8h0M328.8 480.2h0M328.9 478.1h0M329.6 476.2h0M330.5 472.0h0M331.0 445.7h0M332.1 480.0h0M334.1 481.3h0M334.1 486.0h0M335.5 444.8h0M335.3 475.5h0M336.7 450.5h0M337.8 435.8h0M338.7 485.1h0M338.9 425.0h0M337.9 442.1h0M339.2 487.4h0M340.0 428.1h0M339.3 430.8h0M340.5 477.7h0M341.6 436.7h0M341.7 475.4h0M341.1 435.4h0M342.4 479.8h0M342.9 433.1h0M343.2 486.8h0M344.1 487.9h0M344.3 438.7h0M344.5 483.8h0M345.3 439.3h0M346.0 433.6h0M347.1 431.0h0M346.4 489.6h0M347.3 426.3h0M348.8 474.8h0M348.6 472.6h0M349.2 445.1h0M349.4 469.2h0M350.2 434.3h0M351.9 483.1h0M352.0 437.4h0M353.5 444.4h0M353.9 475.2h0M355.3 435.8h0M356.3 477.0h0M356.9 435.3h0M357.3 475.4h0M358.0 433.7h0M357.6 485.0h0M358.4 432.9h0M360.0 485.9h0M359.2 476.5h0M359.9 479.8h0M360.3 443.3h0M361.0 438.5h0M361.0 479.2h0M361.6 434.3h0M363.0 420.5h0M362.6 421.0h0M364.1 480.5h0M364.1 470.2h0M364.3 479.0h0M365.6 477.0h0M366.7 487.3h0M367.2 476.6h0M368.8 445.5h0M369.3 477.5h0M369.7 441.2h0M370.3 483.2h0M371.6 478.3h0M372.9 439.6h0M374.1 465.1h0M373.0 456.6h0M374.5 438.0h0M375.1 427.7h0M376.0 485.1h0M377.0 425.3h0M376.8 423.8h0M377.7 438.4h0M379.1 455.5h0M378.1 459.7h0M379.0 458.9h0M379.0 453.1h0M379.3 455.7h0M379.7 450.1h0M381.0 453.4h0M380.6 468.8h0M381.1 463.3h0M381.0 483.0h0M381.9 433.8h0M383.1 438.2h0M384.5 440.4h0M385.7 467.8h0M385.7 467.4h0M386.2 434.7h0M387.1 440.2h0M386.9 480.9h0M387.9 479.7h0M389.8 442.0h0M389.4 446.8h0M389.9 451.8h0M390.5 436.4h0M390.8 483.5h0M391.8 424.0h0M392.4 486.9h0M393.2 481.7h0M394.6 450.7h0M395.0 445.5h0M395.0 474.7h0M395.1 482.2h0M396.0 481.5h0M395.4 436.2h0M396.9 484.3h0M397.0 426.5h0M396.7 488.7h0M397.4 433.2h0M397.4 430.7h0M398.6 434.5h0M398.0 474.2h0M399.1 425.3h0M398.9 484.8h0M399.7 439.9h0M400.2 414.8h0M400.7 420.4h0M401.0 423.0h0M401.7 423.1h0M402.0 428.1h0M402.7 486.0h0M403.0 468.0h0M405.1 475.4h0M404.6 485.6h0M405.6 420.9h0M405.9 420.2h0M407.0 484.0h0M407.6 483.4h0M407.6 438.4h0M408.2 467.0h0M409.0 462.0h0M409.1 462.6h0M409.1 469.1h0M409.5 464.1h0M410.6 465.3h0M410.2 466.8h0M410.4 467.7h0M411.0 468.5h0M410.9 427.1h0M412.6 428.1h0M413.5 431.8h0M414.0 485.8h0M413.9 485.5h0M414.3 448.9h0M415.0 474.2h0M416.3 474.5h0M416.0 433.9h0M417.3 477.1h0M419.0 473.3h0M418.7 474.7h0M419.9 463.2h0M419.2 458.2h0M419.2 468.0h0M420.9 446.4h0M420.9 451.1h0M421.0 452.0h0M421.1 450.4h0M423.0 484.6h0M423.4 484.4h0M423.5 485.2h0M424.3 426.7h0M424.2 482.3h0M424.3 482.8h0M425.0 432.3h0M426.5 445.9h0M428.0 424.0h0M427.9 429.9h0M428.4 481.2h0M429.0 482.6h0M431.0 436.8h0M431.3 440.6h0M432.7 436.3h0M434.0 426.1h0M433.0 483.8h0M434.7 426.3h0M435.0 478.4h0M435.0 434.6h0M435.1 474.4h0M436.1 479.8h0M437.2 434.7h0M438.5 488.3h0M439.5 487.0h0M440.7 434.4h0M442.0 460.9h0M441.3 478.3h0M443.1 466.5h0M443.0 455.7h0M444.0 461.7h0M444.3 458.5h0M444.0 464.8h0M445.1 465.3h0M445.7 469.8h0M446.0 470.4h0M445.8 451.7h0M446.4 452.1h0M446.1 461.0h0M447.3 462.3h0M447.2 451.4h0M448.5 461.4h0M449.0 454.7h0M448.9 439.2h0M450.8 430.8h0M450.5 439.1h0M451.1 473.7h0M452.0 438.8h0M452.4 460.3h0M452.5 462.5h0M453.7 440.1h0M454.5 475.9h0M455.8 432.6h0M455.5 483.4h0M456.6 428.9h0M456.9 485.1h0M456.9 442.1h0M458.0 451.0h0M458.4 469.8h0M459.2 472.0h0M459.0 477.4h0M460.9 430.0h0M462.0 481.1h0M461.6 484.0h0M461.0 488.2h0M463.0 419.5h0M463.8 442.8h0" stroke="#767676" stroke-width="2.5" stroke-linecap="round" fill="none" opacity="0.7"/>
<path d="M57.4 482.6h0M59.4 499.9h0M62.8 501.2h0M65.0 490.1h0M67.3 505.2h0M69.5 481.0h0M70.5 500.3h0M72.2 495.9h0M73.2 483.9h0M77.0 502.9h0M80.5 480.0h0M81.1 479.7h0M83.0 497.3h0M84.0 547.9h0M89.0 491.0h0M89.2 492.9h0M90.0 479.4h0M93.8 496.5h0M94.7 490.9h0M96.3 520.5h0M103.7 486.3h0M105.1 512.3h0M111.1 487.0h0M113.5 523.0h0M114.0 481.0h0M115.3 486.5h0M117.2 496.6h0M125.0 503.3h0M126.2 512.5h0M131.9 499.4h0M136.4 496.7h0M137.0 512.9h0M138.6 498.4h0M142.0 485.1h0M143.0 504.3h0M148.9 475.8h0M149.4 475.7h0M151.9 510.5h0M155.7 506.9h0M156.2 495.9h0M173.5 500.8h0M179.9 509.2h0M183.5 513.4h0M186.2 488.1h0M189.4 497.2h0M192.6 504.5h0M201.5 490.8h0M203.8 506.4h0M207.2 495.3h0M209.7 508.2h0M215.9 491.7h0M217.3 509.6h0M218.6 529.3h0M223.5 511.4h0M226.7 507.0h0M227.1 489.2h0M229.2 500.7h0M230.1 477.7h0M234.0 491.1h0M246.6 497.0h0M248.7 479.9h0M250.1 475.9h0M252.8 493.9h0M253.8 479.8h0M260.0 481.9h0M260.3 481.5h0M261.5 484.5h0M264.0 478.6h0M264.7 481.9h0M265.3 492.0h0M266.2 494.2h0M268.4 487.2h0M275.6 490.5h0M276.9 478.1h0M277.2 490.2h0M290.5 486.4h0M290.9 502.3h0M294.8 482.4h0M304.7 506.8h0M311.5 508.6h0M315.6 481.1h0M316.1 485.9h0M317.6 484.5h0M323.7 495.0h0M325.0 499.3h0M334.6 493.4h0M339.5 503.5h0M340.6 479.5h0M342.2 497.1h0M344.0 500.5h0M344.8 527.4h0M345.7 478.5h0M346.6 487.7h0M350.1 482.1h0M352.1 484.6h0M353.6 470.1h0M355.1 495.1h0M357.4 504.8h0M358.0 488.8h0M360.5 484.3h0M361.0 499.4h0M365.7 496.2h0M366.7 524.8h0M368.0 494.5h0M368.0 481.3h0M373.2 466.8h0M375.7 484.2h0M384.1 505.1h0M388.0 486.1h0M389.0 505.4h0M391.3 508.7h0M392.5 511.2h0M394.0 474.5h0M395.3 501.8h0M396.4 492.3h0M397.3 505.4h0M400.7 497.1h0M413.6 522.8h0M417.1 477.4h0M424.7 486.0h0M425.5 482.7h0M428.0 521.4h0M428.4 488.1h0M433.3 512.1h0M434.5 496.6h0M436.0 501.4h0M438.3 514.5h0M439.0 490.9h0M449.7 489.0h0M450.9 481.6h0M461.0 528.8h0" stroke="#8c8c8c" stroke-width="2.4" stroke-linecap="round" fill="none" opacity="0.65"/>
</g>
<path d="M228.5 434.0V473.4M229.5 433.3V473.1M230.5 435.8V472.0M231.5 432.3V473.6" stroke="#76595d" stroke-width="1.05" fill="none"/>
<path d="M229.0 483.9h0M228.7 482.5h0M228.9 426.4h0M229.5 469.8h0M229.0 478.6h0M230.3 430.1h0M230.3 430.8h0M230.6 475.0h0M231.0 476.0h0M232.0 479.5h0" stroke="#76595d" stroke-width="2.2" stroke-linecap="round" fill="none" opacity="0.8"/>
<line x1="57.3" y1="459.2" x2="463.8" y2="459.2" stroke="#111" stroke-width="1"/>
<path d="M57.3 460.7H86.0M86.0 462.0H168.0M168.0 464.0H196.0M196.0 459.5H206.0M206.0 453.0H233.0M233.0 454.8H291.0M291.0 457.8H327.0M326.5 451.9H352.0M352.0 454.8H392.7M392.0 451.0H400.0M399.5 454.4H424.8M423.0 451.0H440.0M433.0 457.0H460.0M454.0 451.0H463.8" stroke="#e8962a" stroke-width="2.0" fill="none"/>
<line x1="231.5" y1="404" x2="231.5" y2="534" stroke="#b3122a" stroke-width="1.2" stroke-dasharray="1 1"/>
</g>
<rect x="57.3" y="404.0" width="406.50" height="129.30" fill="none" stroke="#111" stroke-width="1.2"/>
<text x="237.30" y="413.50" font-size="7.8" font-weight="bold" font-style="italic" fill="#cf1029" textLength="22.5" lengthAdjust="spacingAndGlyphs">STAT6</text>
<text x="260.6" y="398.80" text-anchor="middle" font-size="8.2" fill="#222">FL1179T2</text>
<line x1="54.2" y1="429.40" x2="57.3" y2="429.40" stroke="#222" stroke-width="0.8"/>
<text x="50.0" y="432.20" text-anchor="end" font-size="8" fill="#2a2a2a">1</text>
<line x1="54.2" y1="459.20" x2="57.3" y2="459.20" stroke="#222" stroke-width="0.8"/>
<text x="50.0" y="462.00" text-anchor="end" font-size="8" fill="#2a2a2a">0</text>
<line x1="54.2" y1="489.00" x2="57.3" y2="489.00" stroke="#222" stroke-width="0.8"/>
<text x="50.0" y="491.80" text-anchor="end" font-size="8" fill="#2a2a2a">−1</text>
<line x1="54.2" y1="518.80" x2="57.3" y2="518.80" stroke="#222" stroke-width="0.8"/>
<text x="50.0" y="521.60" text-anchor="end" font-size="8" fill="#2a2a2a">−2</text>
<line x1="118.00" y1="533.3" x2="118.00" y2="537.10" stroke="#222" stroke-width="0.9"/>
<text x="118.00" y="547.60" text-anchor="middle" font-size="8" fill="#2a2a2a">20</text>
<line x1="179.00" y1="533.3" x2="179.00" y2="537.10" stroke="#222" stroke-width="0.9"/>
<text x="179.00" y="547.60" text-anchor="middle" font-size="8" fill="#2a2a2a">40</text>
<line x1="240.00" y1="533.3" x2="240.00" y2="537.10" stroke="#222" stroke-width="0.9"/>
<text x="240.00" y="547.60" text-anchor="middle" font-size="8" fill="#2a2a2a">60</text>
<line x1="301.00" y1="533.3" x2="301.00" y2="537.10" stroke="#222" stroke-width="0.9"/>
<text x="301.00" y="547.60" text-anchor="middle" font-size="8" fill="#2a2a2a">80</text>
<line x1="362.00" y1="533.3" x2="362.00" y2="537.10" stroke="#222" stroke-width="0.9"/>
<text x="362.00" y="547.60" text-anchor="middle" font-size="8" fill="#2a2a2a">100</text>
<line x1="423.00" y1="533.3" x2="423.00" y2="537.10" stroke="#222" stroke-width="0.9"/>
<text x="423.00" y="547.60" text-anchor="middle" font-size="8" fill="#2a2a2a">120</text>
<text x="260.3" y="564.50" text-anchor="middle" font-size="9.6" fill="#1a1a1a" stroke="#1a1a1a" stroke-width="0.35" textLength="41" lengthAdjust="spacingAndGlyphs">Position (Mb)</text>
<text x="0" y="0" text-anchor="middle" font-size="9.6" fill="#1a1a1a" stroke="#1a1a1a" stroke-width="0.35" textLength="52.6" lengthAdjust="spacingAndGlyphs" transform="translate(35.8 470.15) rotate(-90)">Copy ratio (log2)</text>
<clipPath id="cD"><rect x="57.3" y="606.4" width="406.50" height="128.50"/></clipPath>
<g clip-path="url(#cD)">
<g filter="url(#soft)">
<path d="M57.5 644.6V675.5M58.5 645.7V680.4M59.5 649.1V677.3M60.5 642.5V673.7M61.5 642.7V680.0M62.5 642.0V677.1M63.5 647.2V673.7M64.5 648.9V672.0M65.5 652.6V676.6M66.5 646.0V675.8M67.5 648.1V678.5M68.5 644.4V680.2M69.5 639.6V678.7M70.5 639.5V681.1M71.5 645.2V672.9M72.5 650.2V679.9M73.5 647.3V676.7M74.5 643.9V679.9M75.5 644.2V683.5M76.5 639.0V678.6M77.5 639.5V679.9M78.5 639.0V681.4M79.5 637.1V677.6M80.5 646.0V675.7M90.5 650.8V668.9M91.5 645.7V666.9M92.5 648.6V670.2M93.5 655.7V667.4M95.5 642.9V661.0M96.5 643.2V663.3M97.5 644.6V663.8M98.5 641.0V658.8M99.5 645.6V663.9M100.5 645.9V664.1M101.5 646.6V663.9M102.5 648.9V663.4M103.5 635.4V658.0M104.5 630.6V657.6M105.5 633.1V659.3M106.5 633.0V661.7M107.5 630.0V664.7M108.5 632.9V664.8M109.5 635.6V667.7M110.5 635.2V667.2M111.5 634.3V663.2M112.5 635.2V656.7M113.5 637.7V658.1M119.5 638.5V667.7M120.5 632.9V667.7M121.5 634.1V668.4M122.5 634.6V662.3M123.5 638.4V666.9M124.5 637.2V663.7M125.5 640.9V660.2M126.5 641.2V666.1M127.5 637.6V666.9M128.5 637.6V666.2M129.5 639.4V669.5M130.5 641.4V670.5M131.5 638.2V666.5M132.5 641.5V665.8M132.5 650.2V668.7M133.5 644.9V667.9M134.5 645.8V667.7M135.5 644.2V664.2M136.5 646.6V667.4M137.5 649.8V666.0M138.5 648.6V660.3M138.5 644.2V661.6M139.5 641.1V666.2M140.5 640.6V665.8M141.5 640.2V669.6M142.5 632.7V669.3M143.5 633.8V668.8M144.5 637.4V669.9M145.5 637.8V667.3M146.5 637.0V665.9M147.5 637.5V664.9M148.5 639.2V664.8M149.5 638.1V660.6M150.5 645.9V661.7M150.5 643.3V658.4M151.5 639.0V657.8M152.5 639.4V660.3M153.5 632.6V659.0M154.5 637.3V666.1M155.5 638.6V671.1M156.5 637.7V666.2M157.5 639.0V662.9M158.5 642.2V660.5M160.5 638.3V659.3M161.5 638.1V666.4M162.5 637.4V665.6M163.5 634.7V664.6M164.5 634.0V660.8M165.5 636.0V665.3M166.5 636.6V664.1M167.5 636.4V661.3M168.5 639.7V664.1M169.5 641.0V660.4M170.5 640.0V662.6M171.5 644.4V660.5M171.5 647.2V660.5M172.5 644.2V662.7M173.5 644.3V662.5M174.5 646.1V663.3M175.5 647.3V666.7M176.5 643.6V665.7M177.5 646.9V665.6M178.5 654.4V668.3M179.5 649.7V665.6M182.5 640.1V665.6M183.5 634.2V665.4M184.5 634.1V659.8M185.5 633.3V663.3M186.5 637.6V660.5M187.5 636.5V664.9M188.5 635.9V662.5M189.5 636.9V662.0M190.5 637.9V663.9M191.5 640.5V662.5M192.5 635.4V661.8M193.5 633.7V665.8M194.5 633.1V661.8M195.5 634.1V664.0M196.5 639.1V671.1M197.5 639.9V670.2M198.5 634.9V665.8M199.5 635.0V665.3M200.5 633.6V664.0M201.5 653.8V669.0M202.5 648.4V670.7M203.5 649.3V666.4M204.5 648.3V667.9M205.5 650.4V667.0M206.5 648.7V671.6M207.5 652.7V668.9M208.5 652.4V668.7M209.5 650.3V669.3M210.5 648.4V669.7M211.5 646.3V666.8M212.5 644.8V662.6M213.5 647.8V665.1M214.5 651.5V664.9M265.5 645.9V665.2M266.5 644.8V667.4M267.5 639.6V671.5M268.5 639.9V668.7M269.5 637.1V664.5M270.5 638.4V665.7M271.5 646.9V665.6M273.5 642.9V672.9M274.5 639.8V667.9M275.5 643.4V673.1M276.5 646.3V669.5M279.5 647.4V668.3M280.5 648.8V671.9M281.5 645.2V670.1M282.5 646.2V672.1M283.5 644.3V668.9M284.5 641.5V668.8M285.5 649.5V668.0M286.5 646.2V667.2M287.5 647.1V668.9M288.5 652.6V667.8M288.5 646.7V666.4M289.5 650.0V667.8M290.5 650.2V667.3M291.5 648.2V664.9M292.5 649.4V670.1M293.5 650.7V667.8M294.5 652.3V671.3M295.5 648.2V673.0M296.5 647.6V671.6M297.5 643.3V671.5M298.5 645.0V671.1M299.5 643.3V667.4M300.5 646.6V665.0M301.5 643.9V668.1M302.5 647.9V668.4M306.5 644.7V678.9M307.5 641.5V681.8M308.5 645.2V684.3M309.5 644.4V681.3M310.5 643.9V686.6M311.5 644.3V683.7M312.5 639.5V684.6M313.5 641.5V679.2M314.5 647.0V682.4M315.5 647.9V676.3M316.5 652.3V676.1M316.5 661.0V682.3M317.5 654.6V684.3M318.5 652.8V685.4M319.5 650.8V686.9M320.5 653.3V688.6M321.5 654.7V688.6M322.5 658.2V685.2M323.5 664.1V683.8M333.5 661.4V678.0M334.5 661.5V679.7M335.5 656.8V680.3M336.5 656.5V682.0M337.5 661.2V679.0M348.5 659.5V673.1M349.5 657.2V674.4M350.5 657.3V676.4M351.5 663.2V673.5M355.5 656.1V676.3M356.5 651.8V681.1M357.5 649.9V679.6M358.5 647.4V684.2M359.5 647.1V688.7M360.5 651.6V689.2M361.5 651.5V681.9M362.5 650.7V685.6M363.5 651.9V684.1M364.5 650.8V682.0M365.5 657.5V682.1M369.5 658.8V686.4M370.5 654.3V685.3M371.5 654.6V687.1M372.5 655.6V687.0M373.5 655.1V686.6M374.5 655.9V686.9M375.5 656.0V683.8M376.5 651.5V686.1M377.5 654.7V688.1M378.5 648.2V690.7M379.5 648.5V692.6M380.5 649.4V691.2M381.5 654.3V691.5M382.5 655.0V684.9M391.5 655.5V683.9M392.5 654.6V691.2M393.5 653.7V686.3M394.5 651.2V688.8M395.5 653.3V686.7M396.5 656.0V690.9M397.5 654.8V686.2M398.5 658.3V688.1M399.5 658.9V684.3M403.5 661.3V678.2M404.5 654.0V677.5M405.5 658.0V680.4M406.5 659.3V680.1M407.5 656.4V683.7M408.5 660.5V682.8M409.5 659.2V678.7M410.5 659.5V683.3M418.5 658.3V680.7M419.5 656.8V680.9M420.5 659.2V686.0M421.5 654.6V683.5M422.5 652.6V684.4M423.5 649.3V686.5M424.5 654.1V680.8M425.5 653.1V677.0M426.5 655.8V679.0M427.5 656.1V681.9M428.5 657.7V682.1M434.5 643.5V677.4M435.5 642.8V684.5M436.5 640.3V682.7M437.5 638.8V680.8M438.5 634.2V674.0M439.5 640.6V679.1M440.5 655.2V671.7M440.5 625.5V647.5M441.5 617.8V648.5M442.5 617.6V649.7M443.5 614.5V648.5M444.5 614.8V645.8M445.5 625.9V644.1M445.5 641.3V667.6M446.5 636.6V669.7M447.5 634.2V673.1M448.5 640.7V665.8M449.5 639.2V672.5M450.5 636.2V671.4M451.5 636.9V672.5M452.5 636.2V673.9M453.5 639.5V670.8M454.5 635.2V672.3M455.5 637.4V668.0M456.5 640.0V665.0M457.5 638.5V672.7M458.5 638.6V673.5M459.5 635.2V673.8M460.5 630.5V671.3M461.5 635.6V669.6M462.5 634.7V666.5M463.5 641.1V669.4" stroke="#686868" stroke-width="1.05" fill="none"/>
<path d="M57.7 682.2h0M57.2 678.2h0M57.5 682.5h0M58.2 679.0h0M59.3 679.5h0M60.7 678.1h0M61.6 681.9h0M62.3 680.8h0M63.5 682.9h0M64.0 675.7h0M64.0 678.0h0M64.1 672.6h0M65.7 654.0h0M64.9 652.7h0M66.0 676.2h0M66.7 643.6h0M66.4 643.7h0M66.1 673.5h0M67.7 679.5h0M68.2 683.4h0M68.5 637.3h0M69.5 685.2h0M69.5 638.9h0M70.9 684.2h0M70.9 639.4h0M72.1 681.4h0M73.9 674.9h0M73.3 680.7h0M73.6 647.0h0M74.1 638.0h0M75.0 635.4h0M75.4 679.7h0M76.9 636.7h0M76.6 641.2h0M77.3 637.1h0M76.9 636.3h0M77.2 680.7h0M78.8 676.6h0M79.1 680.5h0M81.1 678.4h0M80.5 674.8h0M80.4 678.3h0M81.5 660.7h0M81.8 660.3h0M82.8 658.5h0M82.1 661.4h0M82.5 654.8h0M83.5 666.7h0M83.0 655.4h0M84.1 652.1h0M84.2 663.3h0M85.5 667.0h0M86.6 662.6h0M85.9 655.9h0M86.6 659.4h0M87.3 659.1h0M88.1 654.6h0M89.4 656.1h0M90.2 649.5h0M90.8 669.4h0M91.3 643.3h0M92.1 673.9h0M93.0 671.7h0M92.5 668.2h0M93.9 667.5h0M94.0 652.6h0M94.5 657.2h0M94.5 652.8h0M95.9 636.6h0M95.9 664.9h0M97.0 641.1h0M98.0 668.5h0M98.2 640.4h0M98.8 657.5h0M98.5 643.8h0M98.1 662.8h0M98.5 656.7h0M99.1 665.2h0M100.0 667.8h0M99.1 651.4h0M99.5 642.5h0M99.7 665.0h0M100.3 670.6h0M101.3 645.0h0M101.0 668.6h0M101.7 640.1h0M102.9 648.1h0M103.0 663.3h0M102.4 647.4h0M104.0 661.8h0M104.6 629.1h0M104.4 660.6h0M104.4 627.2h0M105.1 629.8h0M106.1 660.9h0M105.7 630.2h0M106.8 624.5h0M107.7 670.1h0M107.4 676.5h0M108.9 636.2h0M109.1 633.1h0M109.7 628.0h0M109.6 670.2h0M109.2 663.9h0M110.8 669.3h0M110.8 668.4h0M110.8 674.4h0M111.2 633.9h0M112.1 630.3h0M112.9 658.4h0M112.0 655.4h0M114.0 636.8h0M113.2 659.6h0M114.0 658.3h0M114.6 657.9h0M114.2 634.9h0M115.9 657.1h0M115.8 644.7h0M116.5 652.9h0M116.3 661.0h0M117.8 657.0h0M117.9 659.5h0M118.6 651.8h0M119.7 671.3h0M119.9 637.1h0M120.9 624.9h0M121.0 632.0h0M122.3 631.4h0M124.1 670.9h0M124.5 634.0h0M124.2 632.8h0M125.8 639.4h0M126.3 633.3h0M127.3 672.9h0M128.1 637.8h0M128.6 637.4h0M130.0 673.1h0M130.5 672.7h0M130.1 670.3h0M131.9 670.0h0M131.9 672.8h0M132.9 638.7h0M131.9 669.8h0M132.2 673.4h0M132.9 647.3h0M134.3 669.1h0M135.3 669.4h0M137.1 642.8h0M136.3 646.6h0M138.0 646.7h0M138.2 661.4h0M139.1 667.5h0M139.2 642.9h0M139.4 637.7h0M139.5 672.4h0M140.8 672.3h0M141.4 674.8h0M141.6 680.9h0M142.3 630.0h0M142.8 671.0h0M142.7 670.9h0M143.7 674.6h0M143.3 636.2h0M143.3 625.0h0M144.9 672.0h0M144.7 675.0h0M144.9 670.7h0M145.6 631.3h0M146.4 633.0h0M148.0 669.2h0M148.4 669.0h0M148.4 666.5h0M148.3 639.6h0M150.0 663.1h0M149.3 635.3h0M149.6 636.0h0M150.5 643.0h0M151.0 641.3h0M150.6 662.6h0M151.7 661.8h0M151.0 658.5h0M151.9 638.7h0M152.7 637.9h0M153.4 664.8h0M153.7 632.8h0M154.0 660.0h0M154.4 631.1h0M154.5 630.5h0M154.9 676.8h0M156.0 674.3h0M157.7 637.2h0M158.1 637.7h0M157.0 638.8h0M158.0 660.1h0M158.5 659.2h0M159.9 658.9h0M160.0 658.3h0M160.3 674.3h0M161.1 658.2h0M161.1 639.3h0M161.6 668.5h0M162.9 636.1h0M162.1 670.5h0M163.3 632.2h0M163.0 664.5h0M163.9 630.9h0M164.3 658.2h0M165.4 631.2h0M166.8 661.8h0M166.4 635.1h0M168.1 630.5h0M168.8 658.1h0M169.0 633.6h0M169.7 662.5h0M169.3 637.3h0M170.7 666.1h0M172.0 663.9h0M171.5 643.4h0M171.1 664.1h0M172.9 643.6h0M173.2 642.1h0M173.9 666.3h0M175.6 667.6h0M177.7 672.1h0M178.6 651.0h0M179.8 668.5h0M182.7 639.7h0M182.6 674.0h0M184.0 667.5h0M184.1 633.8h0M183.8 626.9h0M184.0 664.5h0M184.3 666.4h0M184.0 634.2h0M186.1 633.0h0M186.0 631.1h0M185.2 668.4h0M186.7 635.6h0M187.0 664.2h0M186.9 664.2h0M187.7 666.4h0M188.2 669.1h0M190.1 629.9h0M190.1 660.1h0M189.3 661.0h0M189.9 634.9h0M191.8 666.6h0M191.7 665.7h0M192.8 637.1h0M192.3 626.6h0M192.1 671.2h0M193.5 667.9h0M195.0 631.9h0M195.5 628.5h0M195.6 665.5h0M195.2 623.1h0M196.0 680.7h0M196.8 642.4h0M198.1 673.5h0M197.5 634.1h0M198.0 673.1h0M198.7 667.3h0M198.6 667.1h0M199.3 672.6h0M199.5 674.1h0M201.0 621.8h0M200.5 669.7h0M201.1 672.8h0M202.0 646.0h0M203.5 647.3h0M204.7 670.7h0M206.0 668.3h0M206.9 671.0h0M209.1 673.1h0M208.5 669.4h0M209.7 644.4h0M210.8 671.0h0M211.9 672.2h0M212.7 666.1h0M213.8 645.6h0M216.0 661.3h0M217.1 656.6h0M217.0 660.1h0M217.0 666.7h0M218.1 663.3h0M219.0 663.4h0M219.6 651.0h0M219.7 645.8h0M265.4 667.2h0M264.9 666.4h0M266.0 669.1h0M265.9 670.4h0M267.0 642.2h0M269.0 666.1h0M268.5 634.1h0M268.7 674.1h0M269.6 662.5h0M269.9 664.5h0M270.3 633.8h0M270.5 668.7h0M271.9 647.1h0M271.6 662.2h0M272.0 665.2h0M272.8 667.3h0M272.4 657.0h0M274.0 673.1h0M272.9 673.9h0M273.0 642.8h0M274.4 665.8h0M274.4 670.2h0M275.2 639.4h0M277.0 672.4h0M277.6 655.9h0M277.1 664.3h0M278.3 662.1h0M278.5 661.5h0M279.3 665.8h0M279.4 659.3h0M279.6 675.8h0M279.7 673.4h0M279.7 666.8h0M279.4 673.9h0M280.2 667.7h0M281.0 649.3h0M281.7 668.6h0M280.9 639.8h0M282.9 677.4h0M282.2 670.5h0M284.0 672.6h0M285.1 638.9h0M284.4 641.8h0M285.2 671.2h0M284.9 643.4h0M286.1 644.2h0M287.2 645.2h0M287.6 668.1h0M288.3 669.1h0M288.1 669.2h0M290.8 673.7h0M292.0 644.6h0M291.1 649.2h0M293.6 649.4h0M295.0 649.8h0M295.2 643.3h0M295.3 676.2h0M296.9 675.2h0M297.0 642.7h0M296.5 645.8h0M297.2 672.5h0M297.2 645.2h0M298.1 675.6h0M298.0 640.1h0M298.9 639.6h0M299.9 672.0h0M300.6 664.3h0M300.6 647.3h0M300.1 669.6h0M301.0 641.1h0M301.6 638.1h0M302.0 672.8h0M302.8 667.1h0M303.7 669.6h0M303.5 650.0h0M303.5 656.9h0M303.7 662.3h0M304.2 655.7h0M304.7 658.3h0M304.6 676.8h0M304.8 663.4h0M305.9 663.6h0M304.9 666.4h0M305.8 672.0h0M306.6 675.0h0M306.2 662.6h0M306.8 662.8h0M306.8 656.5h0M306.9 682.6h0M306.6 641.9h0M307.0 682.6h0M307.2 636.5h0M307.0 679.0h0M308.7 635.7h0M308.1 645.0h0M308.5 694.7h0M309.2 682.6h0M310.1 691.1h0M309.4 685.6h0M310.7 637.5h0M310.8 692.7h0M311.3 696.6h0M313.0 684.0h0M312.4 687.6h0M313.6 633.4h0M313.7 647.0h0M314.8 644.9h0M314.8 638.7h0M315.4 675.7h0M315.4 640.6h0M316.2 683.7h0M316.9 676.0h0M316.5 657.5h0M317.0 661.3h0M317.7 650.6h0M318.1 685.7h0M317.9 691.8h0M319.9 686.6h0M318.9 684.7h0M320.4 687.4h0M320.2 651.3h0M322.1 654.7h0M321.8 652.5h0M322.7 655.3h0M323.0 690.9h0M323.1 682.1h0M323.1 682.2h0M323.7 673.7h0M323.0 663.4h0M324.6 668.2h0M324.5 684.6h0M325.5 677.3h0M326.8 668.4h0M327.8 665.7h0M328.0 666.0h0M329.9 670.4h0M329.4 692.1h0M330.0 653.3h0M330.3 654.7h0M331.8 674.5h0M333.1 668.8h0M333.4 663.7h0M333.2 682.8h0M333.1 680.0h0M334.5 656.9h0M334.9 656.9h0M334.2 685.8h0M335.6 682.9h0M336.8 684.9h0M337.4 680.2h0M339.1 674.1h0M338.9 684.2h0M339.7 664.2h0M340.1 683.0h0M340.5 668.4h0M340.6 655.0h0M341.0 676.3h0M341.8 664.3h0M342.0 663.7h0M343.8 654.7h0M344.2 671.7h0M344.8 669.7h0M345.7 649.5h0M345.8 679.5h0M346.1 661.1h0M347.0 668.7h0M347.5 671.0h0M348.1 676.5h0M348.8 673.6h0M349.1 653.9h0M350.0 677.7h0M349.9 679.4h0M351.3 673.2h0M351.0 675.8h0M351.7 675.3h0M351.0 671.8h0M352.8 663.0h0M352.3 673.0h0M353.2 666.2h0M355.1 661.4h0M355.4 661.3h0M355.9 652.6h0M355.1 680.1h0M357.0 653.8h0M356.6 644.8h0M357.1 648.1h0M358.2 648.3h0M358.7 688.1h0M360.1 640.8h0M360.1 642.3h0M360.3 689.3h0M361.0 691.5h0M362.1 680.4h0M361.5 639.7h0M362.6 689.9h0M363.9 652.3h0M364.5 688.9h0M366.0 659.8h0M366.3 664.5h0M365.9 679.7h0M366.1 670.9h0M366.9 662.6h0M367.8 672.8h0M367.0 678.3h0M368.7 670.7h0M368.3 657.3h0M369.1 660.3h0M368.2 657.6h0M370.1 694.5h0M370.7 647.7h0M371.1 653.3h0M371.4 653.9h0M372.5 694.5h0M372.2 688.8h0M373.2 688.0h0M373.5 697.5h0M374.3 647.1h0M374.4 683.2h0M375.9 691.5h0M375.4 688.1h0M376.3 686.2h0M378.0 698.0h0M377.0 690.2h0M378.6 700.1h0M379.8 693.7h0M379.1 644.3h0M380.4 696.2h0M380.1 693.7h0M381.0 698.7h0M381.6 652.6h0M382.8 686.5h0M382.2 661.3h0M383.5 655.3h0M383.4 669.9h0M383.4 664.6h0M384.0 665.8h0M384.9 649.7h0M383.9 671.4h0M385.1 670.2h0M385.6 667.8h0M385.1 666.4h0M387.0 670.8h0M386.8 666.9h0M386.3 654.0h0M387.5 679.0h0M386.9 679.1h0M387.5 654.7h0M388.0 662.2h0M389.1 671.6h0M389.4 645.6h0M389.7 658.1h0M389.7 667.3h0M390.9 676.9h0M390.7 681.8h0M390.6 665.8h0M390.3 655.4h0M391.0 684.8h0M392.9 645.6h0M393.1 691.2h0M393.9 639.1h0M393.0 687.3h0M394.5 650.7h0M394.6 642.1h0M395.8 698.9h0M396.5 698.5h0M397.4 687.5h0M398.9 690.8h0M399.4 688.9h0M401.0 686.7h0M400.5 671.6h0M400.1 678.5h0M401.0 663.5h0M401.8 663.2h0M403.1 672.3h0M402.6 659.7h0M403.4 679.6h0M403.5 679.7h0M404.1 681.7h0M406.0 683.4h0M406.7 658.6h0M407.9 681.7h0M407.5 654.8h0M407.0 690.3h0M408.9 658.9h0M408.1 661.7h0M409.3 684.7h0M409.3 655.2h0M410.7 688.0h0M411.4 653.6h0M411.6 682.1h0M412.8 684.0h0M412.4 666.4h0M413.8 675.0h0M414.2 656.8h0M415.7 667.0h0M415.8 663.5h0M416.6 655.9h0M416.8 650.1h0M417.8 659.4h0M417.5 665.5h0M417.5 679.3h0M418.8 655.0h0M418.7 683.7h0M419.9 685.3h0M420.3 692.1h0M421.0 694.5h0M421.7 687.2h0M423.0 646.6h0M422.3 650.4h0M423.6 689.6h0M424.4 649.9h0M425.0 682.2h0M425.5 648.8h0M426.3 681.3h0M426.7 684.6h0M427.5 648.7h0M428.0 653.0h0M427.6 686.9h0M428.6 652.4h0M429.9 687.8h0M429.9 662.1h0M430.1 668.7h0M430.3 665.8h0M430.9 679.4h0M430.9 665.0h0M431.3 660.7h0M432.8 656.1h0M432.6 671.3h0M433.0 662.5h0M433.3 666.0h0M434.0 641.1h0M435.8 643.1h0M436.5 682.4h0M436.6 636.2h0M437.9 686.3h0M438.5 625.8h0M438.4 640.0h0M439.6 633.6h0M439.6 633.0h0M440.1 672.1h0M440.6 675.9h0M440.4 651.4h0M440.8 623.1h0M441.1 643.7h0M442.7 612.8h0M442.5 655.4h0M442.9 608.7h0M443.5 607.8h0M443.1 601.8h0M443.5 657.5h0M444.6 650.1h0M444.6 654.4h0M445.8 644.8h0M445.0 625.1h0M445.3 670.3h0M445.2 668.0h0M446.8 675.3h0M447.5 630.1h0M448.1 633.8h0M448.0 669.4h0M449.6 633.7h0M450.6 677.7h0M451.7 677.7h0M452.4 683.0h0M452.5 666.8h0M453.2 669.2h0M453.0 675.5h0M454.2 632.3h0M454.0 680.5h0M455.2 669.8h0M456.7 673.5h0M458.0 671.3h0M458.4 672.0h0M458.7 675.1h0M459.2 636.4h0M460.7 634.3h0M460.8 674.1h0M461.1 678.0h0M462.4 628.9h0M462.3 672.1h0M463.7 639.1h0" stroke="#767676" stroke-width="2.5" stroke-linecap="round" fill="none" opacity="0.7"/>
<path d="M65.0 684.8h0M97.2 666.9h0M126.8 668.4h0M132.1 682.4h0M140.4 672.2h0M149.9 673.4h0M153.2 680.7h0M179.7 676.4h0M187.0 673.5h0M194.7 668.7h0M198.4 669.8h0M268.1 697.6h0M295.6 704.6h0M300.6 677.1h0M321.3 710.5h0M337.0 687.9h0M369.4 702.1h0M410.9 687.7h0M420.9 701.8h0M434.0 694.2h0M435.9 685.9h0M439.9 688.5h0M445.2 650.1h0M450.0 683.2h0M454.5 691.1h0M458.4 677.8h0M459.6 679.1h0M461.9 685.5h0M462.5 686.0h0" stroke="#8c8c8c" stroke-width="2.4" stroke-linecap="round" fill="none" opacity="0.65"/>
</g>
<path d="M179.5 638.7V664.8M180.5 640.9V662.3M181.5 634.7V661.3" stroke="#8a3a3a" stroke-width="1.05" fill="none"/>
<path d="M179.0 666.7h0M179.1 634.6h0M180.3 636.8h0M180.4 666.5h0M181.0 634.2h0M181.3 665.6h0" stroke="#8a3a3a" stroke-width="2.2" stroke-linecap="round" fill="none" opacity="0.8"/>
<line x1="57.3" y1="667.3" x2="463.8" y2="667.3" stroke="#111" stroke-width="1"/>
<path d="M57.3 659.0H68.0M66.3 654.6H102.7M102.7 648.8H112.0M112.0 652.9H137.0M137.0 654.2H152.8M151.0 645.0H158.7M155.3 652.9H201.0M201.0 661.5H230.0M265.5 656.6H312.5M266.0 650.3H270.8M311.0 665.0H318.0M318.0 667.6H438.0M362.0 661.0H366.0M435.0 653.0H444.5M444.5 655.0H463.8M439.5 629.0H444.0" stroke="#e8962a" stroke-width="2.0" fill="none"/>
<line x1="180.5" y1="606" x2="180.5" y2="735" stroke="#b3122a" stroke-width="1.2" stroke-dasharray="1 1"/>
</g>
<rect x="57.3" y="606.4" width="406.50" height="128.50" fill="none" stroke="#111" stroke-width="1.2"/>
<text x="186.30" y="615.90" font-size="7.8" font-weight="bold" font-style="italic" fill="#cf1029" textLength="15.8" lengthAdjust="spacingAndGlyphs">IL4R</text>
<text x="260.6" y="601.20" text-anchor="middle" font-size="8.2" fill="#222">EX00406</text>
<line x1="54.2" y1="613.70" x2="57.3" y2="613.70" stroke="#222" stroke-width="0.8"/>
<text x="50.0" y="616.50" text-anchor="end" font-size="8" fill="#2a2a2a">2</text>
<line x1="54.2" y1="640.50" x2="57.3" y2="640.50" stroke="#222" stroke-width="0.8"/>
<text x="50.0" y="643.30" text-anchor="end" font-size="8" fill="#2a2a2a">1</text>
<line x1="54.2" y1="667.30" x2="57.3" y2="667.30" stroke="#222" stroke-width="0.8"/>
<text x="50.0" y="670.10" text-anchor="end" font-size="8" fill="#2a2a2a">0</text>
<line x1="54.2" y1="694.10" x2="57.3" y2="694.10" stroke="#222" stroke-width="0.8"/>
<text x="50.0" y="696.90" text-anchor="end" font-size="8" fill="#2a2a2a">−1</text>
<line x1="54.2" y1="720.90" x2="57.3" y2="720.90" stroke="#222" stroke-width="0.8"/>
<text x="50.0" y="723.70" text-anchor="end" font-size="8" fill="#2a2a2a">−2</text>
<line x1="147.50" y1="734.9" x2="147.50" y2="738.70" stroke="#222" stroke-width="0.9"/>
<text x="147.50" y="751.70" text-anchor="middle" font-size="8" fill="#2a2a2a">20</text>
<line x1="237.50" y1="734.9" x2="237.50" y2="738.70" stroke="#222" stroke-width="0.9"/>
<text x="237.50" y="751.70" text-anchor="middle" font-size="8" fill="#2a2a2a">40</text>
<line x1="327.50" y1="734.9" x2="327.50" y2="738.70" stroke="#222" stroke-width="0.9"/>
<text x="327.50" y="751.70" text-anchor="middle" font-size="8" fill="#2a2a2a">60</text>
<line x1="417.50" y1="734.9" x2="417.50" y2="738.70" stroke="#222" stroke-width="0.9"/>
<text x="417.50" y="751.70" text-anchor="middle" font-size="8" fill="#2a2a2a">80</text>
<text x="260.3" y="765.90" text-anchor="middle" font-size="9.6" fill="#1a1a1a" stroke="#1a1a1a" stroke-width="0.35" textLength="41" lengthAdjust="spacingAndGlyphs">Position (Mb)</text>
<text x="0" y="0" text-anchor="middle" font-size="9.6" fill="#1a1a1a" stroke="#1a1a1a" stroke-width="0.35" textLength="52.6" lengthAdjust="spacingAndGlyphs" transform="translate(35.8 672.15) rotate(-90)">Copy ratio (log2)</text>
</svg></body></html>
